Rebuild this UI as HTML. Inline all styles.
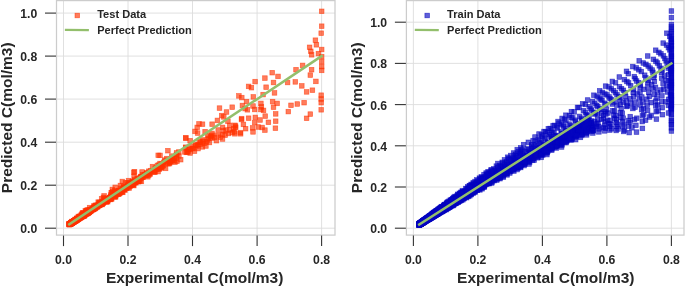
<!DOCTYPE html>
<html><head><meta charset="utf-8"><title>Predicted vs Experimental C</title>
<style>
html,body{margin:0;padding:0;background:#fff;}
svg{display:block;}
text{font-family:"Liberation Sans",sans-serif;font-weight:bold;fill:#262626;}
.tk{font-size:12.2px;}
.al{font-size:15.5px;}
.lg{font-size:11.05px;}
.p rect{width:4.6px;height:4.6px;stroke-width:0.7px;}
</style></head><body>
<svg width="685" height="286" viewBox="0 0 685 286">
<defs><filter id="idf" x="0" y="0" width="685" height="286" filterUnits="userSpaceOnUse" color-interpolation-filters="sRGB"><feOffset dx="0" dy="0"/></filter></defs>
<rect width="685" height="286" fill="#ffffff"/>
<line x1="63.5" y1="0.6" x2="63.5" y2="235.1" stroke="#dcdcdc" stroke-width="0.9"/>
<line x1="128.0" y1="0.6" x2="128.0" y2="235.1" stroke="#dcdcdc" stroke-width="0.9"/>
<line x1="192.5" y1="0.6" x2="192.5" y2="235.1" stroke="#dcdcdc" stroke-width="0.9"/>
<line x1="257.1" y1="0.6" x2="257.1" y2="235.1" stroke="#dcdcdc" stroke-width="0.9"/>
<line x1="321.6" y1="0.6" x2="321.6" y2="235.1" stroke="#dcdcdc" stroke-width="0.9"/>
<line x1="56.5" y1="228.2" x2="335.0" y2="228.2" stroke="#dcdcdc" stroke-width="0.9"/>
<line x1="56.5" y1="185.2" x2="335.0" y2="185.2" stroke="#dcdcdc" stroke-width="0.9"/>
<line x1="56.5" y1="142.2" x2="335.0" y2="142.2" stroke="#dcdcdc" stroke-width="0.9"/>
<line x1="56.5" y1="99.1" x2="335.0" y2="99.1" stroke="#dcdcdc" stroke-width="0.9"/>
<line x1="56.5" y1="56.1" x2="335.0" y2="56.1" stroke="#dcdcdc" stroke-width="0.9"/>
<line x1="56.5" y1="13.1" x2="335.0" y2="13.1" stroke="#dcdcdc" stroke-width="0.9"/>
<g class="p" fill="#ff3200" fill-opacity="0.64" stroke="#ff3200" stroke-opacity="0.64">
<rect x="93.6" y="204.8"/><rect x="93.9" y="204.8"/><rect x="117.5" y="188.9"/><rect x="112.9" y="191.4"/><rect x="147.4" y="171.0"/><rect x="97.5" y="203.0"/><rect x="74.7" y="216.7"/><rect x="92.2" y="205.3"/><rect x="69.4" y="220.2"/><rect x="103.1" y="197.8"/><rect x="75.0" y="216.8"/><rect x="70.8" y="219.7"/><rect x="69.8" y="220.1"/><rect x="95.1" y="203.0"/><rect x="71.6" y="219.1"/><rect x="91.7" y="206.7"/><rect x="141.0" y="175.0"/><rect x="67.7" y="221.7"/><rect x="67.8" y="221.5"/><rect x="171.9" y="158.3"/><rect x="102.6" y="196.2"/><rect x="128.6" y="182.8"/><rect x="85.0" y="210.3"/><rect x="140.2" y="174.9"/><rect x="77.6" y="214.9"/><rect x="112.3" y="191.5"/><rect x="73.2" y="218.0"/><rect x="72.1" y="218.9"/><rect x="77.9" y="215.9"/><rect x="128.0" y="183.3"/><rect x="165.0" y="160.7"/><rect x="72.8" y="218.1"/><rect x="67.9" y="221.5"/><rect x="125.0" y="183.0"/><rect x="67.7" y="221.5"/><rect x="114.2" y="192.5"/><rect x="97.3" y="201.5"/><rect x="82.5" y="213.1"/><rect x="69.1" y="220.9"/><rect x="112.9" y="185.0"/><rect x="68.8" y="220.9"/><rect x="122.7" y="187.9"/><rect x="91.1" y="206.7"/><rect x="69.9" y="220.0"/><rect x="145.5" y="174.5"/><rect x="67.1" y="221.4"/><rect x="86.6" y="209.4"/><rect x="107.8" y="196.8"/><rect x="72.4" y="218.6"/><rect x="141.9" y="173.0"/><rect x="67.5" y="222.1"/><rect x="85.0" y="210.9"/><rect x="127.3" y="181.4"/><rect x="67.1" y="222.0"/><rect x="92.7" y="204.8"/><rect x="67.4" y="222.0"/><rect x="167.1" y="158.5"/><rect x="85.4" y="211.1"/><rect x="98.9" y="200.7"/><rect x="76.3" y="216.0"/><rect x="67.4" y="221.9"/><rect x="152.8" y="169.8"/><rect x="73.7" y="218.1"/><rect x="163.3" y="166.1"/><rect x="85.8" y="210.5"/><rect x="154.5" y="167.1"/><rect x="84.8" y="210.4"/><rect x="85.4" y="209.9"/><rect x="67.0" y="222.2"/><rect x="143.1" y="173.0"/><rect x="84.6" y="208.3"/><rect x="68.8" y="221.3"/><rect x="172.7" y="159.9"/><rect x="67.7" y="221.8"/><rect x="112.9" y="193.0"/><rect x="161.4" y="160.0"/><rect x="89.9" y="206.8"/><rect x="72.2" y="218.6"/><rect x="113.4" y="194.5"/><rect x="75.3" y="217.3"/><rect x="72.6" y="218.4"/><rect x="136.3" y="179.3"/><rect x="74.4" y="216.5"/><rect x="156.6" y="162.8"/><rect x="118.5" y="189.4"/><rect x="87.2" y="208.8"/><rect x="115.3" y="190.4"/><rect x="99.4" y="202.0"/><rect x="122.1" y="186.7"/><rect x="173.9" y="155.9"/><rect x="136.4" y="178.5"/><rect x="80.9" y="213.5"/><rect x="90.9" y="205.7"/><rect x="84.0" y="211.6"/><rect x="77.7" y="214.9"/><rect x="111.8" y="192.0"/><rect x="67.0" y="222.0"/><rect x="107.3" y="195.2"/><rect x="120.1" y="189.6"/><rect x="70.5" y="220.2"/><rect x="94.0" y="204.3"/><rect x="72.0" y="218.6"/><rect x="120.9" y="186.5"/><rect x="103.1" y="199.0"/><rect x="137.7" y="178.8"/><rect x="97.2" y="203.0"/><rect x="70.0" y="220.3"/><rect x="69.6" y="220.6"/><rect x="161.2" y="163.4"/><rect x="146.5" y="173.0"/><rect x="68.6" y="221.2"/><rect x="78.9" y="214.7"/><rect x="79.0" y="212.5"/><rect x="91.9" y="206.1"/><rect x="167.4" y="158.0"/><rect x="85.5" y="209.8"/><rect x="91.0" y="207.2"/><rect x="67.8" y="221.7"/><rect x="132.4" y="177.4"/><rect x="70.0" y="220.1"/><rect x="83.4" y="211.0"/><rect x="93.1" y="206.2"/><rect x="101.3" y="199.8"/><rect x="105.8" y="197.7"/><rect x="114.7" y="191.1"/><rect x="81.6" y="213.3"/><rect x="68.9" y="221.2"/><rect x="82.5" y="212.1"/><rect x="133.5" y="180.5"/><rect x="67.8" y="221.8"/><rect x="71.3" y="218.7"/><rect x="80.2" y="213.2"/><rect x="71.0" y="219.7"/><rect x="70.9" y="219.4"/><rect x="81.0" y="212.8"/><rect x="107.4" y="195.3"/><rect x="83.0" y="208.4"/><rect x="126.4" y="183.5"/><rect x="79.8" y="213.8"/><rect x="67.8" y="221.6"/><rect x="75.1" y="216.8"/><rect x="68.3" y="221.2"/><rect x="71.4" y="219.4"/><rect x="67.5" y="221.8"/><rect x="87.1" y="209.4"/><rect x="159.8" y="164.3"/><rect x="73.4" y="217.9"/><rect x="74.4" y="215.9"/><rect x="86.7" y="209.5"/><rect x="118.5" y="189.1"/><rect x="75.2" y="216.6"/><rect x="101.1" y="200.9"/><rect x="70.1" y="220.1"/><rect x="82.5" y="212.1"/><rect x="159.3" y="164.8"/><rect x="123.2" y="180.6"/><rect x="126.5" y="182.7"/><rect x="86.4" y="209.1"/><rect x="108.9" y="195.5"/><rect x="81.8" y="212.8"/><rect x="76.2" y="216.2"/><rect x="93.3" y="205.7"/><rect x="95.1" y="204.5"/><rect x="75.7" y="216.2"/><rect x="167.2" y="161.3"/><rect x="70.2" y="220.0"/><rect x="115.1" y="189.5"/><rect x="70.5" y="219.6"/><rect x="101.2" y="199.4"/><rect x="68.9" y="221.0"/><rect x="73.3" y="218.0"/><rect x="121.9" y="187.0"/><rect x="69.5" y="220.5"/><rect x="124.4" y="185.3"/><rect x="75.9" y="216.3"/><rect x="82.9" y="211.7"/><rect x="78.9" y="214.7"/><rect x="138.2" y="175.3"/><rect x="72.8" y="217.1"/><rect x="70.6" y="219.5"/><rect x="74.9" y="216.7"/><rect x="71.7" y="219.2"/><rect x="77.5" y="215.0"/><rect x="108.9" y="190.6"/><rect x="160.2" y="162.3"/><rect x="101.8" y="193.6"/><rect x="67.2" y="221.9"/><rect x="67.1" y="222.0"/><rect x="87.9" y="208.5"/><rect x="71.2" y="219.2"/><rect x="72.0" y="218.7"/><rect x="131.1" y="182.7"/><rect x="70.9" y="219.8"/><rect x="174.1" y="152.1"/><rect x="96.8" y="202.0"/><rect x="70.2" y="220.1"/><rect x="148.4" y="168.3"/><rect x="68.1" y="221.4"/><rect x="104.6" y="196.3"/><rect x="70.7" y="219.8"/><rect x="68.3" y="221.4"/><rect x="125.9" y="182.8"/><rect x="108.9" y="194.9"/><rect x="108.3" y="195.2"/><rect x="100.3" y="201.2"/><rect x="130.0" y="179.0"/><rect x="121.9" y="185.9"/><rect x="89.8" y="207.3"/><rect x="71.7" y="219.4"/><rect x="139.7" y="174.5"/><rect x="71.4" y="219.4"/><rect x="90.0" y="207.5"/><rect x="74.9" y="216.9"/><rect x="85.8" y="211.1"/><rect x="97.1" y="202.5"/><rect x="131.1" y="180.0"/><rect x="86.7" y="209.8"/><rect x="104.6" y="196.8"/><rect x="77.0" y="215.8"/><rect x="101.0" y="200.2"/><rect x="147.1" y="170.0"/><rect x="117.0" y="188.3"/><rect x="129.9" y="182.1"/><rect x="67.6" y="221.8"/><rect x="69.9" y="220.0"/><rect x="68.2" y="221.2"/><rect x="68.6" y="221.0"/><rect x="73.3" y="218.3"/><rect x="109.3" y="196.8"/><rect x="73.7" y="217.6"/><rect x="73.4" y="218.0"/><rect x="67.5" y="221.7"/><rect x="81.7" y="212.0"/><rect x="73.4" y="218.5"/><rect x="69.3" y="220.7"/><rect x="89.4" y="206.9"/><rect x="137.9" y="175.7"/><rect x="101.8" y="198.6"/><rect x="103.9" y="198.9"/><rect x="91.4" y="207.0"/><rect x="70.0" y="220.2"/><rect x="67.0" y="222.2"/><rect x="121.9" y="187.2"/><rect x="85.0" y="211.3"/><rect x="138.6" y="174.2"/><rect x="104.4" y="198.7"/><rect x="68.1" y="221.5"/><rect x="67.1" y="221.9"/><rect x="99.7" y="200.6"/><rect x="157.7" y="153.1"/><rect x="74.2" y="217.3"/><rect x="81.8" y="212.2"/><rect x="80.5" y="213.2"/><rect x="106.4" y="196.9"/><rect x="94.4" y="204.0"/><rect x="98.5" y="201.0"/><rect x="88.7" y="207.4"/><rect x="90.7" y="206.2"/><rect x="93.1" y="203.0"/><rect x="75.0" y="216.3"/><rect x="90.5" y="206.9"/><rect x="82.3" y="211.7"/><rect x="168.7" y="159.3"/><rect x="68.1" y="221.3"/><rect x="82.2" y="213.3"/><rect x="78.6" y="214.3"/><rect x="72.2" y="218.6"/><rect x="105.4" y="199.4"/><rect x="88.2" y="207.3"/><rect x="96.4" y="202.9"/><rect x="68.9" y="220.2"/><rect x="169.5" y="153.8"/><rect x="102.0" y="197.4"/><rect x="107.2" y="196.5"/><rect x="70.0" y="220.5"/><rect x="85.7" y="207.4"/><rect x="81.0" y="213.7"/><rect x="96.7" y="201.9"/><rect x="70.3" y="219.9"/><rect x="72.2" y="218.7"/><rect x="95.5" y="203.8"/><rect x="86.6" y="209.6"/><rect x="72.8" y="218.0"/><rect x="176.6" y="153.8"/><rect x="72.4" y="218.7"/><rect x="90.3" y="207.3"/><rect x="108.1" y="195.4"/><rect x="68.2" y="221.3"/><rect x="89.4" y="207.1"/><rect x="68.5" y="220.9"/><rect x="84.1" y="211.1"/><rect x="74.6" y="217.5"/><rect x="71.1" y="219.5"/><rect x="167.6" y="159.9"/><rect x="119.6" y="189.5"/><rect x="74.5" y="217.4"/><rect x="146.5" y="168.9"/><rect x="80.9" y="212.6"/><rect x="76.9" y="215.5"/><rect x="147.0" y="171.3"/><rect x="69.7" y="220.8"/><rect x="68.0" y="221.4"/><rect x="97.3" y="200.0"/><rect x="124.5" y="186.0"/><rect x="79.8" y="214.0"/><rect x="68.4" y="221.2"/><rect x="121.7" y="185.1"/><rect x="70.7" y="219.8"/><rect x="104.8" y="197.5"/><rect x="70.8" y="219.9"/><rect x="90.7" y="206.5"/><rect x="170.2" y="158.2"/><rect x="68.2" y="221.6"/><rect x="79.3" y="214.4"/><rect x="74.3" y="217.2"/><rect x="109.6" y="190.4"/><rect x="153.8" y="165.5"/><rect x="75.9" y="215.7"/><rect x="77.2" y="214.4"/><rect x="150.2" y="164.3"/><rect x="86.9" y="209.0"/><rect x="88.2" y="209.2"/><rect x="76.5" y="216.0"/><rect x="74.4" y="217.3"/><rect x="68.9" y="221.0"/><rect x="80.2" y="210.7"/><rect x="72.9" y="218.3"/><rect x="86.7" y="210.0"/><rect x="71.6" y="219.1"/><rect x="131.5" y="183.3"/><rect x="97.2" y="202.2"/><rect x="75.5" y="216.6"/><rect x="84.3" y="211.6"/><rect x="68.3" y="221.3"/><rect x="158.6" y="165.5"/><rect x="74.2" y="217.4"/><rect x="139.8" y="169.7"/><rect x="99.9" y="202.2"/><rect x="94.2" y="204.0"/><rect x="70.1" y="220.0"/><rect x="183.3" y="145.5"/><rect x="106.8" y="195.9"/><rect x="131.8" y="179.5"/><rect x="80.2" y="214.3"/><rect x="120.5" y="190.1"/><rect x="116.4" y="191.9"/><rect x="85.4" y="210.2"/><rect x="152.9" y="166.1"/><rect x="98.0" y="201.4"/><rect x="68.6" y="220.7"/><rect x="74.3" y="217.7"/><rect x="84.2" y="208.0"/><rect x="115.2" y="191.4"/><rect x="97.8" y="202.0"/><rect x="130.7" y="181.4"/><rect x="102.0" y="199.4"/><rect x="159.2" y="161.7"/><rect x="102.4" y="199.3"/><rect x="128.6" y="182.4"/><rect x="71.0" y="219.3"/><rect x="167.4" y="160.3"/><rect x="70.0" y="220.3"/><rect x="100.0" y="199.7"/><rect x="79.7" y="214.0"/><rect x="66.9" y="221.6"/><rect x="87.6" y="209.0"/><rect x="132.2" y="169.4"/><rect x="76.0" y="214.2"/><rect x="135.0" y="179.1"/><rect x="75.6" y="216.7"/><rect x="83.3" y="211.5"/><rect x="112.8" y="194.6"/><rect x="91.0" y="206.5"/><rect x="109.7" y="193.2"/><rect x="86.8" y="208.7"/><rect x="104.4" y="199.6"/><rect x="130.3" y="182.3"/><rect x="116.1" y="190.7"/><rect x="85.0" y="210.0"/><rect x="94.9" y="203.0"/><rect x="104.3" y="196.3"/><rect x="68.3" y="221.3"/><rect x="74.3" y="217.6"/><rect x="92.2" y="206.1"/><rect x="100.0" y="200.7"/><rect x="120.9" y="186.5"/><rect x="69.6" y="220.3"/><rect x="86.0" y="210.0"/><rect x="80.9" y="210.4"/><rect x="84.1" y="210.9"/><rect x="74.5" y="216.9"/><rect x="70.8" y="219.4"/><rect x="134.8" y="175.9"/><rect x="165.9" y="161.5"/><rect x="73.0" y="218.1"/><rect x="71.6" y="219.3"/><rect x="112.4" y="188.4"/><rect x="110.5" y="189.5"/><rect x="117.8" y="189.2"/><rect x="157.1" y="166.9"/><rect x="77.5" y="215.7"/><rect x="81.6" y="212.1"/><rect x="162.4" y="157.8"/><rect x="81.0" y="212.7"/><rect x="82.9" y="211.8"/><rect x="79.9" y="214.4"/><rect x="69.1" y="220.6"/><rect x="174.3" y="150.6"/><rect x="78.4" y="215.5"/><rect x="69.1" y="220.7"/><rect x="68.0" y="221.5"/><rect x="71.3" y="219.4"/><rect x="150.7" y="168.5"/><rect x="81.4" y="212.8"/><rect x="71.3" y="219.1"/><rect x="67.1" y="221.8"/><rect x="68.3" y="221.1"/><rect x="91.5" y="204.9"/><rect x="155.9" y="153.0"/><rect x="116.9" y="191.4"/><rect x="99.3" y="196.4"/><rect x="81.2" y="213.2"/><rect x="74.1" y="217.0"/><rect x="96.4" y="203.4"/><rect x="83.5" y="209.5"/><rect x="95.0" y="203.2"/><rect x="138.9" y="175.7"/><rect x="133.4" y="180.2"/><rect x="88.0" y="208.3"/><rect x="95.9" y="199.8"/><rect x="144.4" y="171.2"/><rect x="74.8" y="216.9"/><rect x="110.0" y="187.1"/><rect x="69.4" y="220.7"/><rect x="72.0" y="218.8"/><rect x="73.8" y="217.5"/><rect x="82.1" y="212.5"/><rect x="115.3" y="190.9"/><rect x="118.1" y="183.2"/><rect x="104.7" y="196.7"/><rect x="68.0" y="221.5"/><rect x="67.3" y="222.0"/><rect x="72.0" y="219.5"/><rect x="117.7" y="190.9"/><rect x="81.0" y="213.1"/><rect x="84.4" y="210.5"/><rect x="88.7" y="208.5"/><rect x="121.9" y="186.5"/><rect x="129.0" y="182.8"/><rect x="112.1" y="193.0"/><rect x="68.3" y="221.1"/><rect x="165.6" y="148.4"/><rect x="157.7" y="161.2"/><rect x="68.3" y="221.3"/><rect x="69.3" y="220.8"/><rect x="139.1" y="179.1"/><rect x="81.3" y="212.4"/><rect x="152.3" y="168.8"/><rect x="176.5" y="149.7"/><rect x="110.6" y="192.8"/><rect x="86.0" y="210.3"/><rect x="157.8" y="165.7"/><rect x="73.4" y="218.5"/><rect x="68.1" y="221.2"/><rect x="155.8" y="169.3"/><rect x="73.7" y="218.1"/><rect x="86.9" y="210.2"/><rect x="73.3" y="218.1"/><rect x="69.2" y="220.6"/><rect x="80.9" y="213.0"/><rect x="69.8" y="220.5"/><rect x="86.3" y="209.6"/><rect x="164.4" y="156.3"/><rect x="97.9" y="202.5"/><rect x="67.9" y="221.5"/><rect x="87.8" y="207.9"/><rect x="75.4" y="216.5"/><rect x="74.0" y="217.5"/><rect x="83.9" y="211.0"/><rect x="80.4" y="213.7"/><rect x="75.4" y="216.6"/><rect x="74.0" y="217.7"/><rect x="78.9" y="214.4"/><rect x="131.8" y="174.1"/><rect x="72.8" y="218.1"/><rect x="125.0" y="184.4"/><rect x="132.2" y="178.7"/><rect x="77.3" y="215.3"/><rect x="99.4" y="201.2"/><rect x="127.8" y="183.8"/><rect x="75.9" y="216.4"/><rect x="88.2" y="208.3"/><rect x="95.3" y="204.4"/><rect x="72.0" y="219.0"/><rect x="91.7" y="203.5"/><rect x="72.8" y="218.5"/><rect x="74.4" y="217.5"/><rect x="70.1" y="220.4"/><rect x="81.3" y="212.3"/><rect x="97.5" y="201.6"/><rect x="128.3" y="180.6"/><rect x="112.6" y="191.1"/><rect x="71.1" y="219.4"/><rect x="140.4" y="172.6"/><rect x="70.3" y="219.8"/><rect x="94.6" y="204.3"/><rect x="111.2" y="193.4"/><rect x="101.1" y="195.1"/><rect x="108.3" y="194.5"/><rect x="103.8" y="199.5"/><rect x="137.2" y="177.5"/><rect x="169.3" y="156.1"/><rect x="87.4" y="208.4"/><rect x="100.5" y="200.1"/><rect x="72.2" y="219.0"/><rect x="78.8" y="214.3"/><rect x="118.1" y="186.0"/><rect x="98.3" y="202.0"/><rect x="123.6" y="185.5"/><rect x="76.7" y="216.0"/><rect x="131.6" y="170.0"/><rect x="126.8" y="183.2"/><rect x="104.0" y="198.0"/><rect x="92.3" y="205.3"/><rect x="170.1" y="156.4"/><rect x="79.6" y="213.8"/><rect x="70.6" y="219.6"/><rect x="76.3" y="216.5"/><rect x="71.5" y="219.0"/><rect x="70.0" y="220.3"/><rect x="79.5" y="213.9"/><rect x="126.5" y="182.0"/><rect x="76.3" y="216.8"/><rect x="92.6" y="204.7"/><rect x="118.3" y="189.3"/><rect x="116.6" y="190.7"/><rect x="85.2" y="210.4"/><rect x="73.4" y="218.1"/><rect x="79.6" y="213.6"/><rect x="126.2" y="178.3"/><rect x="67.7" y="221.8"/><rect x="104.1" y="198.9"/><rect x="92.7" y="204.6"/><rect x="72.0" y="218.6"/><rect x="70.8" y="219.5"/><rect x="69.6" y="220.5"/><rect x="99.1" y="200.8"/><rect x="81.9" y="213.2"/><rect x="174.6" y="153.5"/><rect x="162.8" y="158.8"/><rect x="82.7" y="211.4"/><rect x="119.8" y="187.3"/><rect x="84.1" y="210.7"/><rect x="73.7" y="217.9"/><rect x="139.4" y="174.5"/><rect x="99.2" y="199.9"/><rect x="131.1" y="181.4"/><rect x="67.3" y="221.8"/><rect x="156.3" y="165.9"/><rect x="68.7" y="221.2"/><rect x="84.8" y="210.6"/><rect x="111.6" y="193.3"/><rect x="115.7" y="191.7"/><rect x="127.0" y="185.8"/><rect x="143.8" y="173.4"/><rect x="133.1" y="179.8"/><rect x="115.0" y="189.5"/><rect x="94.0" y="203.8"/><rect x="73.4" y="218.4"/><rect x="68.9" y="221.1"/><rect x="90.9" y="206.7"/><rect x="76.4" y="216.3"/><rect x="75.4" y="216.3"/><rect x="108.4" y="192.7"/><rect x="86.3" y="208.8"/><rect x="74.0" y="217.5"/><rect x="142.6" y="172.3"/><rect x="86.0" y="209.4"/><rect x="121.4" y="184.6"/><rect x="102.8" y="198.5"/><rect x="113.2" y="192.4"/><rect x="81.6" y="213.6"/><rect x="88.5" y="208.4"/><rect x="75.7" y="216.4"/><rect x="129.9" y="179.4"/><rect x="151.8" y="169.8"/><rect x="144.0" y="171.4"/><rect x="77.1" y="214.6"/><rect x="108.6" y="194.2"/><rect x="75.0" y="217.1"/><rect x="85.2" y="209.7"/><rect x="68.0" y="221.5"/><rect x="77.2" y="215.1"/><rect x="116.2" y="188.6"/><rect x="82.1" y="212.1"/><rect x="67.3" y="221.7"/><rect x="138.2" y="174.8"/><rect x="83.4" y="212.1"/><rect x="116.0" y="190.1"/><rect x="74.0" y="217.9"/><rect x="183.4" y="144.9"/><rect x="74.8" y="217.7"/><rect x="125.4" y="180.6"/><rect x="135.8" y="176.4"/><rect x="88.4" y="207.7"/><rect x="120.0" y="179.2"/><rect x="71.8" y="219.2"/><rect x="70.9" y="219.5"/><rect x="124.0" y="185.4"/><rect x="112.0" y="194.4"/><rect x="78.7" y="214.5"/><rect x="178.4" y="157.4"/><rect x="104.5" y="198.9"/><rect x="155.1" y="163.1"/><rect x="67.2" y="222.0"/><rect x="81.2" y="212.3"/><rect x="73.6" y="217.9"/><rect x="90.5" y="207.2"/><rect x="112.8" y="190.4"/><rect x="84.2" y="211.2"/><rect x="78.4" y="214.4"/><rect x="98.2" y="201.9"/><rect x="88.6" y="207.5"/><rect x="104.5" y="198.2"/><rect x="111.5" y="192.4"/><rect x="73.8" y="217.7"/><rect x="109.3" y="196.2"/><rect x="116.9" y="188.2"/><rect x="171.7" y="156.3"/><rect x="71.1" y="219.5"/><rect x="93.7" y="203.1"/><rect x="135.8" y="179.3"/><rect x="68.8" y="221.0"/><rect x="123.5" y="184.6"/><rect x="96.2" y="203.3"/><rect x="69.6" y="219.2"/><rect x="91.4" y="206.3"/><rect x="97.6" y="201.5"/><rect x="80.9" y="213.1"/><rect x="121.6" y="185.1"/><rect x="72.6" y="218.5"/><rect x="70.0" y="220.2"/><rect x="152.1" y="168.5"/><rect x="78.9" y="213.9"/><rect x="85.0" y="210.7"/><rect x="99.3" y="202.1"/><rect x="68.0" y="221.7"/><rect x="81.9" y="213.4"/><rect x="174.7" y="159.0"/><rect x="77.7" y="213.8"/><rect x="67.4" y="222.1"/><rect x="98.2" y="201.2"/><rect x="81.5" y="212.2"/><rect x="69.2" y="220.8"/><rect x="144.4" y="170.3"/><rect x="142.0" y="173.3"/><rect x="117.2" y="190.0"/><rect x="126.1" y="184.9"/><rect x="78.9" y="214.6"/><rect x="71.1" y="219.3"/><rect x="129.9" y="181.6"/><rect x="73.0" y="217.9"/><rect x="88.6" y="208.1"/><rect x="80.7" y="212.9"/><rect x="103.8" y="198.3"/><rect x="76.1" y="216.2"/><rect x="167.6" y="158.2"/><rect x="70.2" y="220.5"/><rect x="67.9" y="221.4"/><rect x="79.7" y="213.3"/><rect x="74.8" y="216.9"/><rect x="72.3" y="218.3"/><rect x="73.9" y="217.4"/><rect x="96.8" y="200.5"/><rect x="87.5" y="207.4"/><rect x="78.1" y="214.9"/><rect x="108.2" y="197.2"/><rect x="131.5" y="181.1"/><rect x="70.2" y="220.1"/><rect x="73.1" y="218.2"/><rect x="81.8" y="212.7"/><rect x="69.0" y="220.7"/><rect x="78.4" y="214.2"/><rect x="147.9" y="171.8"/><rect x="71.4" y="219.1"/><rect x="67.0" y="222.2"/><rect x="68.9" y="220.6"/><rect x="79.4" y="214.3"/><rect x="79.9" y="211.3"/><rect x="68.7" y="221.1"/><rect x="77.1" y="215.1"/><rect x="87.3" y="205.3"/><rect x="69.0" y="220.6"/><rect x="182.5" y="149.6"/><rect x="67.2" y="222.2"/><rect x="76.7" y="215.4"/><rect x="68.1" y="221.5"/><rect x="68.7" y="221.1"/><rect x="89.1" y="207.6"/><rect x="68.5" y="220.9"/><rect x="91.5" y="205.5"/><rect x="73.3" y="218.1"/><rect x="106.2" y="197.2"/><rect x="67.7" y="221.5"/><rect x="319.4" y="9.0"/><rect x="319.4" y="23.9"/><rect x="318.9" y="30.9"/><rect x="313.1" y="37.9"/><rect x="314.1" y="42.5"/><rect x="307.3" y="45.0"/><rect x="308.5" y="49.0"/><rect x="309.3" y="52.5"/><rect x="319.4" y="47.2"/><rect x="316.1" y="51.3"/><rect x="319.4" y="54.3"/><rect x="319.4" y="59.3"/><rect x="319.4" y="64.3"/><rect x="319.4" y="68.1"/><rect x="300.3" y="63.1"/><rect x="293.7" y="67.4"/><rect x="309.3" y="67.4"/><rect x="308.0" y="72.8"/><rect x="313.6" y="79.1"/><rect x="269.9" y="70.4"/><rect x="275.7" y="74.1"/><rect x="262.6" y="75.8"/><rect x="252.8" y="79.3"/><rect x="271.2" y="80.2"/><rect x="285.3" y="80.2"/><rect x="263.8" y="84.9"/><rect x="293.0" y="79.6"/><rect x="299.5" y="83.6"/><rect x="310.1" y="87.9"/><rect x="304.3" y="89.6"/><rect x="272.2" y="90.6"/><rect x="246.3" y="84.1"/><rect x="249.1" y="85.4"/><rect x="318.9" y="92.9"/><rect x="318.9" y="96.7"/><rect x="318.9" y="100.4"/><rect x="318.9" y="107.5"/><rect x="260.8" y="92.3"/><rect x="251.0" y="94.6"/><rect x="270.3" y="99.3"/><rect x="274.8" y="101.1"/><rect x="271.2" y="104.9"/><rect x="288.7" y="103.0"/><rect x="295.0" y="101.7"/><rect x="301.8" y="100.4"/><rect x="286.0" y="109.3"/><rect x="308.0" y="111.8"/><rect x="304.3" y="116.0"/><rect x="258.6" y="101.1"/><rect x="259.1" y="104.6"/><rect x="258.6" y="107.2"/><rect x="261.2" y="108.1"/><rect x="250.7" y="103.7"/><rect x="252.4" y="107.2"/><rect x="244.2" y="99.3"/><rect x="273.4" y="111.6"/><rect x="262.9" y="113.8"/><rect x="253.0" y="115.1"/><rect x="246.3" y="115.9"/><rect x="257.7" y="117.7"/><rect x="252.4" y="120.3"/><rect x="266.1" y="120.0"/><rect x="273.4" y="118.9"/><rect x="243.3" y="126.4"/><rect x="250.3" y="125.6"/><rect x="250.7" y="129.6"/><rect x="255.9" y="124.7"/><rect x="259.8" y="125.2"/><rect x="262.6" y="127.8"/><rect x="273.1" y="125.9"/><rect x="236.6" y="93.6"/><rect x="239.5" y="95.3"/><rect x="240.1" y="103.2"/><rect x="229.9" y="104.9"/><rect x="217.2" y="105.8"/><rect x="224.2" y="109.7"/><rect x="219.4" y="113.3"/><rect x="221.5" y="114.6"/><rect x="215.1" y="118.1"/><rect x="209.8" y="121.9"/><rect x="196.7" y="121.6"/><rect x="200.2" y="121.9"/><rect x="194.9" y="125.1"/><rect x="192.7" y="129.1"/><rect x="195.3" y="130.8"/><rect x="202.8" y="129.4"/><rect x="183.6" y="135.6"/><rect x="239.2" y="117.2"/><rect x="225.6" y="118.9"/><rect x="227.3" y="123.0"/><rect x="232.6" y="123.0"/><rect x="233.4" y="125.1"/><rect x="220.3" y="125.1"/><rect x="215.9" y="127.7"/><rect x="221.2" y="128.6"/><rect x="223.8" y="127.7"/><rect x="227.3" y="127.7"/><rect x="229.9" y="130.3"/><rect x="232.6" y="131.5"/><rect x="220.3" y="132.1"/><rect x="222.9" y="132.9"/><rect x="238.3" y="131.5"/><rect x="215.9" y="132.9"/><rect x="210.7" y="132.9"/><rect x="205.4" y="132.9"/><rect x="208.1" y="134.7"/><rect x="220.2" y="136.7"/><rect x="209.7" y="131.1"/><rect x="214.1" y="138.4"/><rect x="209.7" y="135.8"/><rect x="205.3" y="137.6"/><rect x="207.1" y="140.2"/><rect x="200.1" y="137.6"/><rect x="201.8" y="141.1"/><rect x="198.3" y="141.9"/><rect x="203.6" y="143.7"/><rect x="200.1" y="144.6"/><rect x="194.8" y="143.7"/><rect x="195.7" y="146.3"/><rect x="190.4" y="146.3"/><rect x="192.2" y="148.9"/><rect x="185.2" y="149.8"/><rect x="187.8" y="150.7"/><rect x="183.4" y="135.8"/><rect x="187.8" y="138.4"/><rect x="245.1" y="107.5"/><rect x="233.2" y="123.8"/><rect x="231.4" y="126.4"/><rect x="232.3" y="129.6"/><rect x="238.1" y="130.3"/><rect x="241.1" y="122.1"/><rect x="239.3" y="116.3"/><rect x="242.8" y="106.3"/><rect x="226.2" y="131.2"/><rect x="218.0" y="134.9"/><rect x="212.2" y="135.1"/><rect x="204.0" y="139.5"/><rect x="196.9" y="139.8"/><rect x="193.6" y="142.6"/><rect x="188.9" y="144.3"/><rect x="186.5" y="147.4"/><rect x="184.0" y="150.1"/><rect x="185.7" y="149.3"/><rect x="188.2" y="146.7"/><rect x="190.7" y="146.0"/><rect x="193.2" y="143.3"/><rect x="195.7" y="142.4"/><rect x="198.2" y="139.7"/><rect x="200.9" y="138.9"/><rect x="206.1" y="136.0"/><rect x="208.8" y="133.9"/>
</g>
<line x1="69.3" y1="224.3" x2="321.6" y2="56.1" stroke="#93bf6c" stroke-width="2.5" stroke-linecap="square"/>
<rect x="56.5" y="0.6" width="278.5" height="234.5" fill="none" stroke="#cccccc" stroke-width="1.25"/>
<line x1="63.5" y1="235.6" x2="63.5" y2="246.1" stroke="#333" stroke-width="1.1"/>
<line x1="128.0" y1="235.6" x2="128.0" y2="246.1" stroke="#333" stroke-width="1.1"/>
<line x1="192.5" y1="235.6" x2="192.5" y2="246.1" stroke="#333" stroke-width="1.1"/>
<line x1="257.1" y1="235.6" x2="257.1" y2="246.1" stroke="#333" stroke-width="1.1"/>
<line x1="321.6" y1="235.6" x2="321.6" y2="246.1" stroke="#333" stroke-width="1.1"/>
<line x1="45.0" y1="228.2" x2="56.0" y2="228.2" stroke="#333" stroke-width="1.1"/>
<line x1="45.0" y1="185.2" x2="56.0" y2="185.2" stroke="#333" stroke-width="1.1"/>
<line x1="45.0" y1="142.2" x2="56.0" y2="142.2" stroke="#333" stroke-width="1.1"/>
<line x1="45.0" y1="99.1" x2="56.0" y2="99.1" stroke="#333" stroke-width="1.1"/>
<line x1="45.0" y1="56.1" x2="56.0" y2="56.1" stroke="#333" stroke-width="1.1"/>
<line x1="45.0" y1="13.1" x2="56.0" y2="13.1" stroke="#333" stroke-width="1.1"/>
<rect x="75.0" y="13.2" width="4.6" height="4.6" fill="#ff3200" fill-opacity="0.64" stroke="#ff3200" stroke-opacity="0.64" stroke-width="0.7"/>
<line x1="64.9" y1="29.9" x2="88.9" y2="30.1" stroke="#93bf6c" stroke-width="2.1"/>
<g filter="url(#idf)">
<text x="63.5" y="264.0" text-anchor="middle" class="tk">0.0</text>
<text x="128.0" y="264.0" text-anchor="middle" class="tk">0.2</text>
<text x="192.5" y="264.0" text-anchor="middle" class="tk">0.4</text>
<text x="257.1" y="264.0" text-anchor="middle" class="tk">0.6</text>
<text x="321.6" y="264.0" text-anchor="middle" class="tk">0.8</text>
<text x="37.2" y="233.1" text-anchor="end" class="tk">0.0</text>
<text x="37.2" y="190.1" text-anchor="end" class="tk">0.2</text>
<text x="37.2" y="147.1" text-anchor="end" class="tk">0.4</text>
<text x="37.2" y="104.1" text-anchor="end" class="tk">0.6</text>
<text x="37.2" y="61.1" text-anchor="end" class="tk">0.8</text>
<text x="37.2" y="18.0" text-anchor="end" class="tk">1.0</text>
<text x="194.6" y="282.7" text-anchor="middle" class="al">Experimental C(mol/m3)</text>
<text transform="translate(12.3,117.8) rotate(-90)" text-anchor="middle" class="al">Predicted C(mol/m3)</text>
<text x="97.2" y="17.9" class="lg">Test Data</text>
<text x="97.2" y="33.9" class="lg">Perfect Prediction</text>
</g>
<line x1="413.4" y1="0.6" x2="413.4" y2="235.1" stroke="#dcdcdc" stroke-width="0.9"/>
<line x1="477.9" y1="0.6" x2="477.9" y2="235.1" stroke="#dcdcdc" stroke-width="0.9"/>
<line x1="542.4" y1="0.6" x2="542.4" y2="235.1" stroke="#dcdcdc" stroke-width="0.9"/>
<line x1="606.9" y1="0.6" x2="606.9" y2="235.1" stroke="#dcdcdc" stroke-width="0.9"/>
<line x1="671.4" y1="0.6" x2="671.4" y2="235.1" stroke="#dcdcdc" stroke-width="0.9"/>
<line x1="406.4" y1="228.2" x2="684.0" y2="228.2" stroke="#dcdcdc" stroke-width="0.9"/>
<line x1="406.4" y1="187.0" x2="684.0" y2="187.0" stroke="#dcdcdc" stroke-width="0.9"/>
<line x1="406.4" y1="145.8" x2="684.0" y2="145.8" stroke="#dcdcdc" stroke-width="0.9"/>
<line x1="406.4" y1="104.6" x2="684.0" y2="104.6" stroke="#dcdcdc" stroke-width="0.9"/>
<line x1="406.4" y1="63.4" x2="684.0" y2="63.4" stroke="#dcdcdc" stroke-width="0.9"/>
<line x1="406.4" y1="22.2" x2="684.0" y2="22.2" stroke="#dcdcdc" stroke-width="0.9"/>
<g class="p" fill="#0404c0" fill-opacity="0.64" stroke="#0404c0" stroke-opacity="0.64">
<rect x="447.9" y="202.3"/><rect x="420.3" y="219.6"/><rect x="565.6" y="130.7"/><rect x="432.1" y="213.1"/><rect x="422.9" y="218.7"/><rect x="467.5" y="193.5"/><rect x="667.4" y="34.1"/><rect x="572.1" y="129.3"/><rect x="494.8" y="175.9"/><rect x="513.3" y="160.7"/><rect x="440.4" y="207.6"/><rect x="522.3" y="161.3"/><rect x="527.5" y="152.6"/><rect x="542.1" y="135.5"/><rect x="618.5" y="115.2"/><rect x="595.4" y="117.5"/><rect x="418.7" y="221.2"/><rect x="571.1" y="125.2"/><rect x="499.0" y="164.6"/><rect x="432.2" y="213.0"/><rect x="450.6" y="203.3"/><rect x="669.1" y="104.0"/><rect x="420.8" y="219.5"/><rect x="419.4" y="219.9"/><rect x="447.6" y="201.9"/><rect x="462.8" y="191.1"/><rect x="535.7" y="143.4"/><rect x="621.8" y="121.8"/><rect x="470.6" y="189.7"/><rect x="548.2" y="143.8"/><rect x="459.7" y="193.2"/><rect x="447.3" y="203.2"/><rect x="417.9" y="220.8"/><rect x="485.0" y="181.5"/><rect x="447.9" y="202.8"/><rect x="457.2" y="198.1"/><rect x="669.1" y="43.4"/><rect x="447.7" y="204.4"/><rect x="438.6" y="205.7"/><rect x="514.2" y="163.3"/><rect x="632.0" y="74.3"/><rect x="612.2" y="116.0"/><rect x="500.7" y="173.0"/><rect x="522.2" y="157.0"/><rect x="502.5" y="169.9"/><rect x="420.5" y="220.2"/><rect x="584.2" y="127.5"/><rect x="434.2" y="211.7"/><rect x="429.6" y="215.1"/><rect x="526.7" y="158.5"/><rect x="429.5" y="214.1"/><rect x="531.0" y="155.8"/><rect x="418.8" y="221.2"/><rect x="569.0" y="124.9"/><rect x="534.5" y="142.1"/><rect x="481.1" y="180.0"/><rect x="430.1" y="212.8"/><rect x="517.7" y="150.1"/><rect x="525.9" y="158.0"/><rect x="417.0" y="221.9"/><rect x="430.8" y="213.9"/><rect x="534.8" y="149.3"/><rect x="655.2" y="90.3"/><rect x="417.0" y="222.0"/><rect x="653.4" y="103.6"/><rect x="458.9" y="196.4"/><rect x="419.3" y="220.8"/><rect x="523.1" y="155.7"/><rect x="486.0" y="176.0"/><rect x="460.0" y="193.8"/><rect x="530.2" y="155.1"/><rect x="428.2" y="214.8"/><rect x="602.4" y="122.7"/><rect x="417.6" y="222.0"/><rect x="463.2" y="191.7"/><rect x="422.5" y="219.0"/><rect x="506.7" y="165.5"/><rect x="664.8" y="61.1"/><rect x="461.6" y="193.2"/><rect x="551.2" y="136.7"/><rect x="445.2" y="204.8"/><rect x="520.5" y="155.5"/><rect x="453.0" y="194.8"/><rect x="660.9" y="40.8"/><rect x="430.2" y="214.5"/><rect x="432.2" y="212.6"/><rect x="416.9" y="222.4"/><rect x="479.8" y="186.5"/><rect x="468.7" y="188.7"/><rect x="425.9" y="216.4"/><rect x="588.4" y="122.9"/><rect x="562.6" y="140.2"/><rect x="418.3" y="221.4"/><rect x="653.9" y="109.4"/><rect x="474.8" y="185.9"/><rect x="620.0" y="110.8"/><rect x="416.8" y="222.3"/><rect x="488.8" y="177.1"/><rect x="427.9" y="214.7"/><rect x="664.2" y="42.8"/><rect x="429.6" y="214.0"/><rect x="520.3" y="157.6"/><rect x="455.0" y="195.6"/><rect x="533.1" y="151.0"/><rect x="583.1" y="110.0"/><rect x="416.9" y="222.4"/><rect x="424.1" y="218.1"/><rect x="470.4" y="189.0"/><rect x="422.1" y="219.0"/><rect x="521.7" y="160.3"/><rect x="419.9" y="219.3"/><rect x="442.5" y="202.6"/><rect x="427.4" y="216.1"/><rect x="514.0" y="163.6"/><rect x="454.2" y="198.5"/><rect x="557.2" y="138.3"/><rect x="442.2" y="208.0"/><rect x="472.6" y="184.2"/><rect x="455.6" y="199.2"/><rect x="418.8" y="221.1"/><rect x="420.4" y="220.2"/><rect x="535.0" y="152.8"/><rect x="584.8" y="128.5"/><rect x="588.8" y="125.7"/><rect x="546.0" y="126.4"/><rect x="421.0" y="219.2"/><rect x="431.9" y="212.9"/><rect x="426.3" y="216.6"/><rect x="535.8" y="154.4"/><rect x="417.6" y="221.9"/><rect x="565.8" y="129.7"/><rect x="604.7" y="92.6"/><rect x="447.3" y="201.0"/><rect x="426.3" y="215.8"/><rect x="569.3" y="137.5"/><rect x="654.7" y="95.8"/><rect x="481.0" y="179.5"/><rect x="525.2" y="156.8"/><rect x="545.7" y="139.9"/><rect x="421.7" y="219.2"/><rect x="427.4" y="216.5"/><rect x="424.0" y="217.6"/><rect x="559.3" y="144.7"/><rect x="417.9" y="221.6"/><rect x="417.4" y="222.1"/><rect x="634.2" y="129.8"/><rect x="660.8" y="81.2"/><rect x="496.6" y="173.1"/><rect x="575.5" y="124.8"/><rect x="419.9" y="220.7"/><rect x="502.2" y="157.6"/><rect x="467.9" y="189.9"/><rect x="489.4" y="180.7"/><rect x="431.4" y="213.1"/><rect x="422.6" y="217.7"/><rect x="669.1" y="102.8"/><rect x="428.4" y="215.3"/><rect x="476.6" y="183.1"/><rect x="469.8" y="183.8"/><rect x="547.0" y="132.2"/><rect x="476.7" y="182.8"/><rect x="451.9" y="201.0"/><rect x="573.4" y="137.4"/><rect x="430.7" y="212.7"/><rect x="584.8" y="126.7"/><rect x="549.5" y="135.3"/><rect x="545.6" y="148.8"/><rect x="449.2" y="203.4"/><rect x="419.6" y="220.7"/><rect x="549.7" y="140.6"/><rect x="653.4" y="47.9"/><rect x="479.6" y="175.6"/><rect x="609.0" y="86.5"/><rect x="419.8" y="220.3"/><rect x="466.9" y="190.9"/><rect x="448.3" y="199.0"/><rect x="534.0" y="148.6"/><rect x="429.5" y="213.7"/><rect x="507.3" y="166.1"/><rect x="426.9" y="216.2"/><rect x="427.8" y="215.6"/><rect x="425.8" y="217.0"/><rect x="462.9" y="189.4"/><rect x="554.2" y="133.9"/><rect x="421.9" y="218.4"/><rect x="454.2" y="198.1"/><rect x="439.0" y="208.4"/><rect x="561.9" y="135.3"/><rect x="640.0" y="119.3"/><rect x="578.6" y="130.2"/><rect x="437.5" y="208.7"/><rect x="423.5" y="217.9"/><rect x="417.1" y="222.4"/><rect x="432.7" y="212.6"/><rect x="453.6" y="196.1"/><rect x="517.5" y="164.2"/><rect x="441.4" y="207.2"/><rect x="430.8" y="213.7"/><rect x="425.7" y="217.0"/><rect x="461.5" y="192.0"/><rect x="518.8" y="160.1"/><rect x="426.8" y="215.8"/><rect x="422.3" y="218.0"/><rect x="431.4" y="213.3"/><rect x="444.3" y="204.9"/><rect x="566.0" y="133.6"/><rect x="422.6" y="217.5"/><rect x="570.8" y="129.2"/><rect x="428.4" y="215.2"/><rect x="481.6" y="181.7"/><rect x="433.8" y="211.9"/><rect x="521.9" y="158.7"/><rect x="433.7" y="211.4"/><rect x="521.0" y="155.4"/><rect x="428.0" y="213.2"/><rect x="464.0" y="193.8"/><rect x="573.1" y="131.3"/><rect x="424.9" y="217.5"/><rect x="495.5" y="175.2"/><rect x="430.3" y="211.9"/><rect x="428.9" y="214.6"/><rect x="458.5" y="196.1"/><rect x="532.7" y="134.7"/><rect x="561.5" y="132.2"/><rect x="476.4" y="181.0"/><rect x="417.5" y="221.2"/><rect x="580.4" y="121.2"/><rect x="469.1" y="182.8"/><rect x="578.1" y="135.1"/><rect x="433.5" y="211.1"/><rect x="537.5" y="147.1"/><rect x="444.0" y="203.8"/><rect x="572.4" y="132.3"/><rect x="439.1" y="208.5"/><rect x="418.4" y="220.5"/><rect x="417.3" y="222.2"/><rect x="433.8" y="209.4"/><rect x="610.6" y="108.5"/><rect x="472.3" y="188.6"/><rect x="427.4" y="215.7"/><rect x="591.2" y="110.0"/><rect x="587.8" y="122.0"/><rect x="570.0" y="125.5"/><rect x="511.3" y="150.7"/><rect x="638.1" y="82.7"/><rect x="450.2" y="200.8"/><rect x="552.9" y="144.8"/><rect x="614.5" y="124.1"/><rect x="434.4" y="208.5"/><rect x="457.0" y="196.0"/><rect x="418.3" y="221.2"/><rect x="422.1" y="219.3"/><rect x="579.0" y="130.0"/><rect x="418.7" y="220.6"/><rect x="425.0" y="217.1"/><rect x="570.5" y="115.6"/><rect x="417.5" y="221.1"/><rect x="547.4" y="147.3"/><rect x="418.0" y="221.4"/><rect x="551.4" y="139.9"/><rect x="417.9" y="220.9"/><rect x="556.7" y="120.8"/><rect x="418.3" y="221.3"/><rect x="433.6" y="211.7"/><rect x="418.5" y="221.1"/><rect x="532.3" y="148.8"/><rect x="418.2" y="221.4"/><rect x="589.6" y="126.9"/><rect x="447.5" y="202.1"/><rect x="526.7" y="161.7"/><rect x="534.5" y="152.5"/><rect x="421.2" y="219.8"/><rect x="417.2" y="222.1"/><rect x="554.1" y="145.7"/><rect x="630.6" y="106.2"/><rect x="514.3" y="163.3"/><rect x="439.5" y="205.2"/><rect x="445.4" y="204.2"/><rect x="417.8" y="221.4"/><rect x="577.5" y="124.5"/><rect x="669.1" y="58.3"/><rect x="418.6" y="221.6"/><rect x="502.7" y="169.3"/><rect x="423.8" y="217.0"/><rect x="430.3" y="214.9"/><rect x="421.9" y="219.1"/><rect x="624.2" y="69.0"/><rect x="450.5" y="197.4"/><rect x="437.7" y="208.6"/><rect x="426.8" y="215.8"/><rect x="417.8" y="221.8"/><rect x="435.7" y="207.1"/><rect x="433.5" y="210.8"/><rect x="444.2" y="204.9"/><rect x="423.3" y="218.3"/><rect x="659.9" y="68.1"/><rect x="537.8" y="147.3"/><rect x="563.0" y="136.9"/><rect x="420.2" y="220.2"/><rect x="451.3" y="199.0"/><rect x="549.3" y="138.8"/><rect x="417.7" y="221.0"/><rect x="417.9" y="221.7"/><rect x="555.9" y="137.7"/><rect x="419.9" y="220.3"/><rect x="463.5" y="194.9"/><rect x="518.2" y="151.5"/><rect x="451.7" y="195.8"/><rect x="637.1" y="96.8"/><rect x="417.6" y="221.6"/><rect x="422.1" y="217.6"/><rect x="430.7" y="212.3"/><rect x="443.6" y="205.2"/><rect x="438.4" y="209.0"/><rect x="483.8" y="170.7"/><rect x="428.3" y="215.6"/><rect x="512.3" y="163.1"/><rect x="425.0" y="215.4"/><rect x="429.8" y="212.1"/><rect x="427.4" y="215.6"/><rect x="542.5" y="146.9"/><rect x="418.6" y="220.4"/><rect x="657.0" y="63.5"/><rect x="420.5" y="220.1"/><rect x="650.7" y="86.9"/><rect x="418.2" y="221.0"/><rect x="470.4" y="185.2"/><rect x="417.8" y="221.5"/><rect x="512.4" y="159.9"/><rect x="426.3" y="216.2"/><rect x="553.9" y="143.9"/><rect x="431.5" y="210.2"/><rect x="428.6" y="213.4"/><rect x="429.7" y="214.6"/><rect x="433.3" y="210.6"/><rect x="434.0" y="211.4"/><rect x="418.0" y="221.6"/><rect x="589.4" y="122.5"/><rect x="463.5" y="192.6"/><rect x="436.9" y="210.1"/><rect x="425.7" y="215.7"/><rect x="618.9" y="106.1"/><rect x="645.9" y="63.7"/><rect x="614.0" y="120.0"/><rect x="460.3" y="194.3"/><rect x="465.8" y="193.6"/><rect x="421.4" y="219.5"/><rect x="460.1" y="194.8"/><rect x="455.8" y="196.9"/><rect x="596.8" y="126.6"/><rect x="419.8" y="220.5"/><rect x="418.6" y="221.2"/><rect x="478.9" y="181.2"/><rect x="424.7" y="216.3"/><rect x="512.3" y="164.2"/><rect x="437.4" y="209.5"/><rect x="542.8" y="144.7"/><rect x="571.2" y="130.0"/><rect x="435.9" y="210.2"/><rect x="486.8" y="179.3"/><rect x="442.9" y="205.9"/><rect x="505.5" y="162.0"/><rect x="455.9" y="199.5"/><rect x="433.6" y="212.1"/><rect x="665.9" y="65.8"/><rect x="417.9" y="221.7"/><rect x="439.3" y="208.0"/><rect x="423.8" y="217.9"/><rect x="422.8" y="218.0"/><rect x="432.8" y="213.0"/><rect x="572.7" y="129.4"/><rect x="427.9" y="215.7"/><rect x="426.4" y="216.7"/><rect x="604.3" y="107.1"/><rect x="431.4" y="213.4"/><rect x="622.8" y="90.5"/><rect x="490.8" y="171.2"/><rect x="417.3" y="221.3"/><rect x="436.4" y="208.2"/><rect x="417.4" y="221.8"/><rect x="421.6" y="218.4"/><rect x="420.8" y="220.1"/><rect x="419.6" y="219.5"/><rect x="479.2" y="185.6"/><rect x="543.2" y="149.0"/><rect x="590.5" y="124.4"/><rect x="419.9" y="220.2"/><rect x="439.1" y="207.4"/><rect x="432.7" y="211.9"/><rect x="448.5" y="200.8"/><rect x="417.2" y="221.9"/><rect x="630.9" y="90.1"/><rect x="478.3" y="178.5"/><rect x="537.5" y="137.9"/><rect x="466.2" y="191.2"/><rect x="419.0" y="221.0"/><rect x="421.7" y="218.9"/><rect x="507.2" y="164.7"/><rect x="426.8" y="216.2"/><rect x="580.8" y="122.2"/><rect x="451.8" y="196.4"/><rect x="607.4" y="124.1"/><rect x="417.8" y="221.6"/><rect x="478.6" y="180.3"/><rect x="422.5" y="218.4"/><rect x="499.9" y="168.0"/><rect x="422.5" y="218.9"/><rect x="422.2" y="219.1"/><rect x="486.1" y="180.6"/><rect x="516.0" y="161.4"/><rect x="613.7" y="113.4"/><rect x="417.1" y="222.4"/><rect x="423.4" y="217.0"/><rect x="445.8" y="204.7"/><rect x="509.6" y="163.0"/><rect x="439.4" y="208.2"/><rect x="541.7" y="129.2"/><rect x="419.0" y="220.8"/><rect x="563.2" y="137.4"/><rect x="606.7" y="84.6"/><rect x="429.5" y="214.6"/><rect x="595.1" y="112.4"/><rect x="515.9" y="165.9"/><rect x="434.7" y="210.4"/><rect x="417.3" y="222.0"/><rect x="430.8" y="213.3"/><rect x="607.5" y="127.8"/><rect x="421.5" y="219.9"/><rect x="561.1" y="131.0"/><rect x="529.6" y="153.7"/><rect x="455.9" y="193.4"/><rect x="546.9" y="140.9"/><rect x="422.2" y="218.6"/><rect x="419.7" y="219.8"/><rect x="537.5" y="149.8"/><rect x="533.5" y="151.9"/><rect x="435.2" y="208.1"/><rect x="430.9" y="211.0"/><rect x="428.8" y="213.7"/><rect x="592.5" y="101.0"/><rect x="442.0" y="207.2"/><rect x="419.3" y="220.7"/><rect x="427.5" y="215.3"/><rect x="527.1" y="148.9"/><rect x="417.9" y="221.5"/><rect x="439.7" y="204.6"/><rect x="470.3" y="189.2"/><rect x="461.8" y="194.0"/><rect x="440.5" y="209.0"/><rect x="425.9" y="216.5"/><rect x="476.5" y="184.2"/><rect x="456.6" y="194.6"/><rect x="498.6" y="170.8"/><rect x="503.5" y="166.7"/><rect x="600.2" y="90.1"/><rect x="433.0" y="209.3"/><rect x="666.6" y="78.2"/><rect x="569.1" y="109.3"/><rect x="535.9" y="137.1"/><rect x="419.8" y="220.6"/><rect x="492.0" y="176.2"/><rect x="451.4" y="202.6"/><rect x="445.7" y="204.9"/><rect x="420.5" y="220.0"/><rect x="437.3" y="207.5"/><rect x="421.4" y="219.7"/><rect x="445.7" y="205.4"/><rect x="669.1" y="71.0"/><rect x="419.9" y="220.6"/><rect x="420.1" y="220.4"/><rect x="514.9" y="167.3"/><rect x="626.0" y="71.4"/><rect x="543.3" y="149.1"/><rect x="426.2" y="216.6"/><rect x="448.4" y="202.5"/><rect x="431.4" y="212.5"/><rect x="530.7" y="152.6"/><rect x="602.9" y="119.4"/><rect x="435.7" y="209.2"/><rect x="478.3" y="183.6"/><rect x="607.8" y="96.2"/><rect x="423.2" y="218.1"/><rect x="462.2" y="194.4"/><rect x="453.9" y="197.9"/><rect x="665.1" y="89.7"/><rect x="641.5" y="111.9"/><rect x="529.7" y="152.3"/><rect x="425.7" y="216.3"/><rect x="422.9" y="218.5"/><rect x="578.2" y="127.4"/><rect x="429.7" y="214.8"/><rect x="453.9" y="197.1"/><rect x="417.4" y="221.9"/><rect x="426.8" y="215.8"/><rect x="583.4" y="125.8"/><rect x="624.5" y="104.2"/><rect x="424.1" y="217.4"/><rect x="637.8" y="84.7"/><rect x="484.6" y="173.1"/><rect x="420.2" y="220.2"/><rect x="461.9" y="195.4"/><rect x="437.4" y="208.5"/><rect x="589.2" y="118.8"/><rect x="559.6" y="131.3"/><rect x="531.3" y="155.9"/><rect x="644.5" y="96.9"/><rect x="461.7" y="192.5"/><rect x="496.6" y="168.6"/><rect x="419.1" y="221.1"/><rect x="454.6" y="200.0"/><rect x="602.6" y="91.7"/><rect x="521.1" y="159.3"/><rect x="454.5" y="197.8"/><rect x="442.0" y="206.6"/><rect x="521.1" y="156.1"/><rect x="613.2" y="80.5"/><rect x="481.8" y="184.4"/><rect x="483.8" y="177.4"/><rect x="555.9" y="134.5"/><rect x="460.5" y="196.0"/><rect x="485.6" y="179.5"/><rect x="422.6" y="218.5"/><rect x="424.1" y="218.0"/><rect x="508.8" y="167.6"/><rect x="429.0" y="214.6"/><rect x="421.7" y="218.7"/><rect x="465.8" y="185.7"/><rect x="448.9" y="201.9"/><rect x="417.2" y="222.1"/><rect x="432.9" y="212.9"/><rect x="515.1" y="165.0"/><rect x="442.3" y="206.4"/><rect x="574.1" y="132.9"/><rect x="425.5" y="217.6"/><rect x="435.9" y="211.6"/><rect x="425.9" y="216.8"/><rect x="584.4" y="131.0"/><rect x="419.9" y="220.5"/><rect x="653.2" y="98.8"/><rect x="434.3" y="211.5"/><rect x="428.0" y="215.0"/><rect x="432.3" y="212.8"/><rect x="435.9" y="210.1"/><rect x="432.8" y="212.1"/><rect x="530.5" y="156.6"/><rect x="449.7" y="198.9"/><rect x="633.6" y="123.0"/><rect x="424.4" y="217.8"/><rect x="493.1" y="169.5"/><rect x="423.3" y="218.7"/><rect x="452.9" y="198.8"/><rect x="641.2" y="106.0"/><rect x="430.8" y="214.0"/><rect x="417.4" y="221.7"/><rect x="466.1" y="186.9"/><rect x="450.4" y="200.3"/><rect x="420.3" y="220.2"/><rect x="531.0" y="155.0"/><rect x="649.4" y="82.3"/><rect x="454.6" y="193.8"/><rect x="451.5" y="195.1"/><rect x="422.0" y="218.8"/><rect x="651.3" y="75.2"/><rect x="427.3" y="213.6"/><rect x="435.3" y="211.2"/><rect x="532.1" y="147.6"/><rect x="625.0" y="103.5"/><rect x="420.1" y="220.4"/><rect x="422.9" y="218.8"/><rect x="514.8" y="161.5"/><rect x="588.4" y="120.6"/><rect x="585.7" y="117.7"/><rect x="418.3" y="221.5"/><rect x="439.4" y="208.7"/><rect x="579.4" y="133.2"/><rect x="477.0" y="187.0"/><rect x="422.9" y="219.0"/><rect x="643.3" y="117.9"/><rect x="421.4" y="219.7"/><rect x="459.7" y="192.7"/><rect x="543.6" y="150.6"/><rect x="417.9" y="221.8"/><rect x="427.6" y="214.3"/><rect x="445.7" y="205.8"/><rect x="418.1" y="221.7"/><rect x="417.2" y="221.7"/><rect x="445.2" y="199.7"/><rect x="418.1" y="221.3"/><rect x="421.7" y="219.0"/><rect x="511.2" y="162.0"/><rect x="477.3" y="176.7"/><rect x="530.2" y="154.5"/><rect x="465.3" y="190.4"/><rect x="554.8" y="143.1"/><rect x="512.1" y="161.7"/><rect x="418.1" y="221.7"/><rect x="420.8" y="220.0"/><rect x="423.5" y="218.2"/><rect x="463.7" y="192.0"/><rect x="437.8" y="209.4"/><rect x="420.8" y="219.9"/><rect x="567.7" y="136.5"/><rect x="419.5" y="220.7"/><rect x="431.6" y="213.2"/><rect x="492.7" y="168.7"/><rect x="524.0" y="152.5"/><rect x="452.5" y="200.0"/><rect x="461.9" y="194.6"/><rect x="417.6" y="221.8"/><rect x="606.6" y="121.3"/><rect x="454.5" y="199.6"/><rect x="447.9" y="197.9"/><rect x="442.1" y="205.6"/><rect x="430.7" y="213.8"/><rect x="420.5" y="219.9"/><rect x="513.1" y="160.1"/><rect x="427.0" y="214.3"/><rect x="465.8" y="194.2"/><rect x="418.1" y="221.6"/><rect x="424.8" y="216.7"/><rect x="594.8" y="93.9"/><rect x="429.1" y="212.5"/><rect x="419.9" y="220.0"/><rect x="515.4" y="164.3"/><rect x="498.3" y="172.8"/><rect x="668.0" y="92.6"/><rect x="429.1" y="214.3"/><rect x="596.6" y="129.6"/><rect x="419.0" y="220.9"/><rect x="484.1" y="180.6"/><rect x="456.1" y="199.8"/><rect x="435.1" y="211.8"/><rect x="422.9" y="217.2"/><rect x="427.8" y="215.4"/><rect x="599.0" y="117.1"/><rect x="422.1" y="219.0"/><rect x="558.0" y="141.8"/><rect x="437.7" y="209.5"/><rect x="502.7" y="168.9"/><rect x="437.6" y="209.2"/><rect x="435.2" y="207.8"/><rect x="646.0" y="78.2"/><rect x="496.2" y="172.3"/><rect x="419.7" y="220.4"/><rect x="422.8" y="218.5"/><rect x="559.7" y="142.6"/><rect x="582.1" y="124.0"/><rect x="575.8" y="123.0"/><rect x="522.3" y="158.7"/><rect x="458.5" y="195.4"/><rect x="549.1" y="128.3"/><rect x="455.8" y="192.6"/><rect x="493.8" y="174.9"/><rect x="475.0" y="187.0"/><rect x="419.5" y="220.7"/><rect x="431.6" y="213.4"/><rect x="419.9" y="220.4"/><rect x="509.3" y="165.6"/><rect x="519.8" y="158.7"/><rect x="526.0" y="154.8"/><rect x="500.5" y="161.1"/><rect x="418.7" y="221.1"/><rect x="424.1" y="217.7"/><rect x="518.3" y="165.2"/><rect x="422.1" y="219.2"/><rect x="541.2" y="142.9"/><rect x="526.5" y="156.4"/><rect x="425.3" y="217.2"/><rect x="449.1" y="202.4"/><rect x="537.0" y="148.4"/><rect x="474.9" y="184.8"/><rect x="579.4" y="132.1"/><rect x="663.8" y="58.5"/><rect x="440.2" y="208.2"/><rect x="444.5" y="206.5"/><rect x="536.1" y="147.0"/><rect x="444.2" y="205.0"/><rect x="418.3" y="221.1"/><rect x="455.3" y="197.5"/><rect x="504.9" y="170.1"/><rect x="491.9" y="177.6"/><rect x="425.2" y="216.8"/><rect x="507.0" y="168.3"/><rect x="427.9" y="215.2"/><rect x="431.5" y="212.6"/><rect x="540.0" y="149.8"/><rect x="647.8" y="65.8"/><rect x="514.8" y="163.5"/><rect x="633.0" y="76.4"/><rect x="449.0" y="201.8"/><rect x="563.7" y="129.1"/><rect x="472.5" y="187.9"/><rect x="422.7" y="218.5"/><rect x="430.7" y="213.5"/><rect x="450.9" y="198.0"/><rect x="447.9" y="203.4"/><rect x="434.5" y="208.3"/><rect x="470.4" y="188.0"/><rect x="552.2" y="140.9"/><rect x="427.0" y="214.7"/><rect x="632.7" y="104.9"/><rect x="424.9" y="217.5"/><rect x="420.7" y="218.6"/><rect x="420.2" y="219.1"/><rect x="516.8" y="160.6"/><rect x="421.0" y="219.8"/><rect x="432.8" y="211.5"/><rect x="420.1" y="220.2"/><rect x="429.3" y="213.0"/><rect x="430.8" y="214.0"/><rect x="424.5" y="217.5"/><rect x="417.6" y="221.9"/><rect x="549.4" y="146.8"/><rect x="424.2" y="216.7"/><rect x="431.3" y="213.2"/><rect x="489.9" y="175.8"/><rect x="426.4" y="216.1"/><rect x="583.0" y="121.6"/><rect x="465.4" y="192.1"/><rect x="430.8" y="213.2"/><rect x="432.2" y="213.8"/><rect x="421.5" y="219.4"/><rect x="504.3" y="171.5"/><rect x="563.6" y="118.2"/><rect x="420.8" y="220.1"/><rect x="487.6" y="179.8"/><rect x="537.8" y="150.8"/><rect x="433.6" y="212.2"/><rect x="418.7" y="220.8"/><rect x="567.1" y="113.3"/><rect x="424.7" y="217.4"/><rect x="526.6" y="157.6"/><rect x="472.5" y="188.8"/><rect x="417.4" y="221.9"/><rect x="465.1" y="192.2"/><rect x="563.3" y="131.7"/><rect x="437.4" y="209.4"/><rect x="642.4" y="72.9"/><rect x="421.4" y="218.9"/><rect x="428.5" y="215.4"/><rect x="431.4" y="212.9"/><rect x="511.2" y="156.0"/><rect x="669.1" y="101.6"/><rect x="480.0" y="176.1"/><rect x="488.2" y="173.0"/><rect x="448.0" y="203.5"/><rect x="551.7" y="130.6"/><rect x="433.4" y="211.5"/><rect x="445.2" y="202.4"/><rect x="578.0" y="125.7"/><rect x="428.0" y="215.0"/><rect x="444.1" y="204.8"/><rect x="434.2" y="211.2"/><rect x="493.8" y="174.9"/><rect x="476.7" y="183.6"/><rect x="487.6" y="172.5"/><rect x="447.0" y="204.2"/><rect x="476.2" y="183.7"/><rect x="651.1" y="57.0"/><rect x="472.7" y="179.2"/><rect x="429.4" y="214.5"/><rect x="613.9" y="128.2"/><rect x="513.1" y="152.0"/><rect x="652.1" y="72.9"/><rect x="533.8" y="153.2"/><rect x="659.5" y="99.4"/><rect x="419.0" y="220.9"/><rect x="428.3" y="215.1"/><rect x="549.8" y="144.6"/><rect x="500.2" y="169.6"/><rect x="475.1" y="187.9"/><rect x="669.1" y="40.0"/><rect x="462.6" y="193.5"/><rect x="422.2" y="219.5"/><rect x="447.7" y="203.2"/><rect x="440.0" y="207.1"/><rect x="429.1" y="212.3"/><rect x="417.2" y="221.9"/><rect x="428.5" y="215.4"/><rect x="514.5" y="153.6"/><rect x="461.6" y="191.6"/><rect x="436.4" y="210.2"/><rect x="421.6" y="218.5"/><rect x="556.9" y="135.3"/><rect x="515.7" y="158.7"/><rect x="554.0" y="139.7"/><rect x="420.8" y="220.2"/><rect x="432.2" y="209.8"/><rect x="443.9" y="203.4"/><rect x="525.4" y="156.8"/><rect x="518.4" y="145.6"/><rect x="448.3" y="198.5"/><rect x="432.8" y="212.6"/><rect x="466.6" y="191.6"/><rect x="546.2" y="142.4"/><rect x="453.1" y="201.1"/><rect x="449.6" y="198.4"/><rect x="419.2" y="220.7"/><rect x="588.5" y="120.6"/><rect x="568.1" y="131.5"/><rect x="584.1" y="112.4"/><rect x="668.9" y="37.1"/><rect x="439.5" y="209.1"/><rect x="448.6" y="199.9"/><rect x="428.4" y="214.8"/><rect x="562.5" y="135.5"/><rect x="455.6" y="198.9"/><rect x="481.4" y="183.4"/><rect x="501.7" y="171.4"/><rect x="666.1" y="45.4"/><rect x="612.2" y="108.6"/><rect x="669.1" y="64.6"/><rect x="427.4" y="215.8"/><rect x="478.1" y="183.6"/><rect x="440.0" y="207.7"/><rect x="482.7" y="180.8"/><rect x="505.9" y="166.8"/><rect x="431.2" y="212.2"/><rect x="420.7" y="220.0"/><rect x="449.3" y="201.4"/><rect x="457.3" y="197.1"/><rect x="645.4" y="53.7"/><rect x="521.8" y="159.0"/><rect x="424.3" y="217.6"/><rect x="430.8" y="213.9"/><rect x="416.8" y="222.6"/><rect x="482.2" y="180.3"/><rect x="571.7" y="130.9"/><rect x="443.8" y="202.9"/><rect x="439.9" y="206.0"/><rect x="427.4" y="215.9"/><rect x="424.1" y="217.5"/><rect x="575.9" y="126.2"/><rect x="429.2" y="215.0"/><rect x="596.2" y="124.0"/><rect x="658.7" y="66.0"/><rect x="427.7" y="215.4"/><rect x="417.7" y="221.9"/><rect x="472.8" y="186.8"/><rect x="499.9" y="166.0"/><rect x="426.9" y="215.3"/><rect x="416.9" y="222.4"/><rect x="544.8" y="130.7"/><rect x="417.0" y="221.5"/><rect x="452.7" y="200.2"/><rect x="583.5" y="124.9"/><rect x="419.5" y="220.8"/><rect x="418.1" y="221.9"/><rect x="504.7" y="160.5"/><rect x="418.2" y="220.9"/><rect x="419.5" y="220.5"/><rect x="474.8" y="186.2"/><rect x="631.3" y="94.1"/><rect x="420.1" y="220.3"/><rect x="596.8" y="95.6"/><rect x="586.6" y="118.3"/><rect x="432.1" y="213.3"/><rect x="440.9" y="206.7"/><rect x="419.9" y="220.2"/><rect x="571.9" y="109.6"/><rect x="555.1" y="136.3"/><rect x="455.3" y="192.0"/><rect x="484.4" y="180.9"/><rect x="432.1" y="212.4"/><rect x="418.9" y="220.3"/><rect x="439.3" y="207.7"/><rect x="662.2" y="73.5"/><rect x="443.4" y="206.2"/><rect x="431.4" y="214.0"/><rect x="669.1" y="95.6"/><rect x="446.3" y="204.3"/><rect x="426.0" y="216.6"/><rect x="443.5" y="206.2"/><rect x="423.4" y="217.2"/><rect x="513.4" y="153.2"/><rect x="441.3" y="203.4"/><rect x="440.2" y="208.5"/><rect x="466.1" y="186.4"/><rect x="441.0" y="207.7"/><rect x="463.6" y="186.2"/><rect x="492.1" y="174.9"/><rect x="453.5" y="195.5"/><rect x="435.3" y="211.1"/><rect x="417.3" y="222.1"/><rect x="452.5" y="199.1"/><rect x="628.4" y="83.4"/><rect x="454.6" y="199.0"/><rect x="519.3" y="157.1"/><rect x="646.4" y="90.1"/><rect x="470.8" y="188.9"/><rect x="669.1" y="82.0"/><rect x="419.0" y="219.9"/><rect x="553.9" y="142.2"/><rect x="455.1" y="195.0"/><rect x="443.0" y="205.1"/><rect x="436.8" y="210.0"/><rect x="420.2" y="220.0"/><rect x="470.6" y="186.8"/><rect x="465.4" y="184.5"/><rect x="621.1" y="88.0"/><rect x="448.8" y="202.6"/><rect x="445.0" y="202.3"/><rect x="419.3" y="220.9"/><rect x="443.3" y="205.6"/><rect x="426.9" y="215.7"/><rect x="433.1" y="211.9"/><rect x="416.9" y="222.4"/><rect x="497.4" y="170.4"/><rect x="466.9" y="190.3"/><rect x="502.3" y="162.4"/><rect x="417.0" y="222.1"/><rect x="567.0" y="133.4"/><rect x="438.4" y="209.8"/><rect x="424.0" y="217.6"/><rect x="589.4" y="107.9"/><rect x="419.6" y="220.8"/><rect x="420.4" y="220.1"/><rect x="527.3" y="154.1"/><rect x="559.7" y="131.6"/><rect x="441.5" y="204.0"/><rect x="573.4" y="133.3"/><rect x="420.4" y="220.2"/><rect x="609.2" y="126.5"/><rect x="474.7" y="186.3"/><rect x="501.9" y="172.0"/><rect x="529.3" y="153.8"/><rect x="479.0" y="174.5"/><rect x="460.1" y="188.6"/><rect x="422.9" y="218.2"/><rect x="424.9" y="217.5"/><rect x="434.4" y="210.9"/><rect x="430.1" y="214.6"/><rect x="428.9" y="215.0"/><rect x="456.7" y="195.4"/><rect x="432.8" y="212.5"/><rect x="421.6" y="219.4"/><rect x="618.0" y="110.5"/><rect x="669.1" y="75.0"/><rect x="456.1" y="198.5"/><rect x="424.5" y="217.4"/><rect x="418.5" y="221.2"/><rect x="417.8" y="221.2"/><rect x="457.4" y="191.7"/><rect x="494.9" y="176.6"/><rect x="453.2" y="200.3"/><rect x="603.3" y="83.8"/><rect x="451.2" y="199.5"/><rect x="583.4" y="123.3"/><rect x="443.4" y="206.6"/><rect x="562.3" y="135.0"/><rect x="533.6" y="154.7"/><rect x="486.7" y="181.2"/><rect x="490.7" y="175.8"/><rect x="502.6" y="163.9"/><rect x="473.7" y="180.8"/><rect x="420.4" y="219.7"/><rect x="433.7" y="212.4"/><rect x="421.7" y="219.0"/><rect x="572.7" y="134.8"/><rect x="525.1" y="158.2"/><rect x="573.2" y="129.9"/><rect x="566.1" y="132.6"/><rect x="569.9" y="136.0"/><rect x="669.1" y="66.0"/><rect x="528.9" y="155.1"/><rect x="463.5" y="191.8"/><rect x="554.2" y="142.6"/><rect x="458.8" y="195.3"/><rect x="480.5" y="180.9"/><rect x="607.9" y="118.1"/><rect x="420.6" y="219.7"/><rect x="456.3" y="194.3"/><rect x="470.3" y="188.3"/><rect x="526.0" y="140.0"/><rect x="416.9" y="221.7"/><rect x="429.1" y="212.7"/><rect x="501.1" y="174.9"/><rect x="603.1" y="126.0"/><rect x="576.7" y="128.2"/><rect x="458.4" y="197.4"/><rect x="444.4" y="201.0"/><rect x="423.5" y="218.1"/><rect x="567.1" y="130.4"/><rect x="423.2" y="216.7"/><rect x="429.9" y="213.1"/><rect x="666.3" y="97.0"/><rect x="442.0" y="206.8"/><rect x="440.5" y="208.2"/><rect x="430.1" y="211.2"/><rect x="547.8" y="141.7"/><rect x="446.7" y="204.4"/><rect x="441.3" y="202.9"/><rect x="558.0" y="138.3"/><rect x="647.3" y="114.7"/><rect x="417.6" y="220.9"/><rect x="459.7" y="195.5"/><rect x="417.4" y="221.6"/><rect x="582.4" y="126.9"/><rect x="518.4" y="164.5"/><rect x="423.3" y="218.4"/><rect x="440.2" y="208.1"/><rect x="420.5" y="219.7"/><rect x="669.1" y="120.3"/><rect x="432.8" y="211.4"/><rect x="534.8" y="153.5"/><rect x="536.7" y="131.7"/><rect x="666.2" y="110.7"/><rect x="417.4" y="221.5"/><rect x="514.3" y="165.4"/><rect x="439.4" y="208.7"/><rect x="533.7" y="148.9"/><rect x="466.7" y="190.0"/><rect x="424.5" y="217.7"/><rect x="518.7" y="161.7"/><rect x="419.3" y="221.0"/><rect x="551.6" y="141.7"/><rect x="425.3" y="216.8"/><rect x="417.1" y="221.7"/><rect x="532.1" y="152.3"/><rect x="490.9" y="173.9"/><rect x="417.0" y="222.1"/><rect x="669.1" y="79.3"/><rect x="441.2" y="208.3"/><rect x="578.3" y="122.1"/><rect x="589.2" y="128.7"/><rect x="470.7" y="191.1"/><rect x="465.6" y="192.5"/><rect x="550.5" y="129.9"/><rect x="456.9" y="196.4"/><rect x="594.4" y="103.0"/><rect x="489.2" y="177.5"/><rect x="422.1" y="218.5"/><rect x="539.3" y="151.6"/><rect x="479.3" y="182.7"/><rect x="532.7" y="139.7"/><rect x="500.2" y="168.8"/><rect x="610.0" y="79.1"/><rect x="434.2" y="210.1"/><rect x="539.4" y="148.2"/><rect x="441.2" y="207.3"/><rect x="417.2" y="221.8"/><rect x="452.8" y="198.0"/><rect x="433.7" y="209.2"/><rect x="581.1" y="108.3"/><rect x="417.8" y="221.8"/><rect x="452.9" y="200.9"/><rect x="418.4" y="221.5"/><rect x="425.0" y="217.4"/><rect x="486.5" y="178.9"/><rect x="420.2" y="219.1"/><rect x="603.5" y="102.1"/><rect x="479.6" y="184.7"/><rect x="499.7" y="166.6"/><rect x="666.3" y="63.8"/><rect x="506.0" y="165.1"/><rect x="540.9" y="144.8"/><rect x="418.4" y="221.3"/><rect x="544.1" y="147.0"/><rect x="481.9" y="185.0"/><rect x="579.2" y="128.8"/><rect x="429.3" y="215.2"/><rect x="515.7" y="164.3"/><rect x="513.0" y="163.6"/><rect x="420.4" y="220.2"/><rect x="417.1" y="222.1"/><rect x="448.9" y="203.0"/><rect x="442.4" y="202.2"/><rect x="669.1" y="52.7"/><rect x="426.8" y="215.5"/><rect x="520.1" y="153.5"/><rect x="419.6" y="221.0"/><rect x="573.5" y="125.0"/><rect x="491.5" y="176.7"/><rect x="424.5" y="215.7"/><rect x="639.0" y="69.2"/><rect x="430.1" y="213.7"/><rect x="494.6" y="172.8"/><rect x="425.3" y="216.3"/><rect x="434.2" y="210.5"/><rect x="421.7" y="219.5"/><rect x="636.9" y="58.5"/><rect x="424.8" y="217.0"/><rect x="436.7" y="209.8"/><rect x="451.7" y="200.6"/><rect x="539.1" y="149.2"/><rect x="468.2" y="190.4"/><rect x="422.0" y="219.2"/><rect x="534.1" y="152.3"/><rect x="518.5" y="160.8"/><rect x="426.0" y="215.2"/><rect x="425.8" y="216.0"/><rect x="426.9" y="213.9"/><rect x="419.8" y="220.4"/><rect x="419.6" y="220.5"/><rect x="455.2" y="196.3"/><rect x="632.5" y="99.7"/><rect x="486.8" y="177.4"/><rect x="660.0" y="105.4"/><rect x="423.2" y="218.0"/><rect x="424.1" y="217.8"/><rect x="416.9" y="222.2"/><rect x="420.2" y="220.5"/><rect x="421.8" y="219.3"/><rect x="458.7" y="197.8"/><rect x="425.4" y="215.1"/><rect x="481.7" y="172.3"/><rect x="470.6" y="190.0"/><rect x="468.5" y="191.6"/><rect x="443.4" y="206.2"/><rect x="655.8" y="108.5"/><rect x="493.8" y="170.9"/><rect x="425.9" y="214.7"/><rect x="422.8" y="217.0"/><rect x="421.0" y="219.7"/><rect x="530.1" y="156.2"/><rect x="418.3" y="221.5"/><rect x="564.3" y="138.7"/><rect x="539.4" y="151.6"/><rect x="432.7" y="211.9"/><rect x="563.0" y="126.5"/><rect x="421.4" y="219.2"/><rect x="595.6" y="120.8"/><rect x="436.0" y="210.4"/><rect x="454.0" y="199.3"/><rect x="564.4" y="136.6"/><rect x="661.5" y="86.8"/><rect x="506.2" y="156.1"/><rect x="423.4" y="218.1"/><rect x="457.4" y="198.0"/><rect x="426.8" y="216.3"/><rect x="424.0" y="216.1"/><rect x="428.9" y="213.9"/><rect x="425.7" y="216.5"/><rect x="446.1" y="201.5"/><rect x="624.6" y="79.2"/><rect x="423.1" y="218.6"/><rect x="431.5" y="213.6"/><rect x="486.7" y="170.1"/><rect x="430.2" y="214.2"/><rect x="468.0" y="185.8"/><rect x="541.7" y="145.6"/><rect x="435.1" y="210.7"/><rect x="417.2" y="222.2"/><rect x="417.6" y="222.1"/><rect x="530.8" y="153.3"/><rect x="431.0" y="210.9"/><rect x="580.5" y="118.4"/><rect x="420.5" y="219.0"/><rect x="422.5" y="218.8"/><rect x="441.4" y="207.5"/><rect x="420.7" y="219.2"/><rect x="430.3" y="214.2"/><rect x="567.4" y="132.4"/><rect x="420.6" y="219.9"/><rect x="419.7" y="220.7"/><rect x="466.8" y="192.2"/><rect x="467.1" y="183.7"/><rect x="481.1" y="181.0"/><rect x="446.6" y="199.0"/><rect x="490.0" y="169.3"/><rect x="534.8" y="152.6"/><rect x="422.8" y="218.4"/><rect x="520.5" y="157.4"/><rect x="506.6" y="164.0"/><rect x="419.1" y="220.1"/><rect x="535.3" y="155.5"/><rect x="488.7" y="178.5"/><rect x="421.1" y="219.4"/><rect x="577.5" y="129.1"/><rect x="443.7" y="205.3"/><rect x="465.2" y="193.4"/><rect x="437.4" y="209.7"/><rect x="569.6" y="133.8"/><rect x="421.3" y="219.4"/><rect x="461.5" y="196.4"/><rect x="476.1" y="185.2"/><rect x="523.3" y="154.4"/><rect x="457.4" y="198.7"/><rect x="418.4" y="220.6"/><rect x="472.7" y="189.0"/><rect x="585.0" y="129.6"/><rect x="494.5" y="177.8"/><rect x="424.4" y="218.0"/><rect x="458.6" y="198.2"/><rect x="517.9" y="162.7"/><rect x="518.4" y="163.0"/><rect x="431.0" y="213.9"/><rect x="632.2" y="117.2"/><rect x="426.3" y="217.0"/><rect x="417.0" y="222.3"/><rect x="539.3" y="152.8"/><rect x="554.7" y="143.0"/><rect x="664.6" y="83.6"/><rect x="516.9" y="160.0"/><rect x="455.5" y="196.4"/><rect x="650.6" y="70.0"/><rect x="512.0" y="157.1"/><rect x="506.0" y="162.6"/><rect x="438.0" y="208.9"/><rect x="488.9" y="178.4"/><rect x="420.2" y="220.3"/><rect x="425.8" y="216.2"/><rect x="489.8" y="179.7"/><rect x="572.5" y="131.7"/><rect x="426.4" y="214.8"/><rect x="427.8" y="215.1"/><rect x="516.9" y="157.5"/><rect x="437.7" y="209.5"/><rect x="463.0" y="192.9"/><rect x="418.9" y="220.9"/><rect x="636.4" y="80.4"/><rect x="448.5" y="202.5"/><rect x="433.8" y="212.2"/><rect x="555.7" y="119.2"/><rect x="434.9" y="211.0"/><rect x="497.6" y="176.4"/><rect x="421.4" y="219.6"/><rect x="438.4" y="205.2"/><rect x="427.2" y="215.9"/><rect x="439.8" y="207.7"/><rect x="419.3" y="220.4"/><rect x="626.2" y="123.8"/><rect x="527.5" y="150.4"/><rect x="461.8" y="195.1"/><rect x="421.1" y="219.8"/><rect x="437.5" y="209.9"/><rect x="419.6" y="220.4"/><rect x="425.9" y="217.3"/><rect x="446.6" y="204.9"/><rect x="630.5" y="64.3"/><rect x="456.2" y="197.2"/><rect x="602.7" y="109.4"/><rect x="515.2" y="164.5"/><rect x="525.6" y="154.7"/><rect x="418.6" y="221.4"/><rect x="449.1" y="202.8"/><rect x="430.1" y="213.6"/><rect x="430.8" y="213.5"/><rect x="432.0" y="212.8"/><rect x="426.7" y="216.1"/><rect x="420.1" y="220.1"/><rect x="528.5" y="150.9"/><rect x="451.2" y="200.0"/><rect x="626.4" y="118.2"/><rect x="436.0" y="209.5"/><rect x="526.8" y="158.6"/><rect x="418.1" y="221.6"/><rect x="433.6" y="208.7"/><rect x="431.9" y="211.1"/><rect x="422.8" y="218.7"/><rect x="417.4" y="222.0"/><rect x="552.0" y="140.8"/><rect x="452.8" y="200.4"/><rect x="447.4" y="202.6"/><rect x="423.2" y="218.0"/><rect x="452.6" y="197.5"/><rect x="417.4" y="221.8"/><rect x="614.7" y="92.5"/><rect x="568.3" y="135.9"/><rect x="659.6" y="93.6"/><rect x="497.5" y="170.1"/><rect x="599.0" y="107.3"/><rect x="436.6" y="208.5"/><rect x="469.1" y="189.4"/><rect x="427.3" y="215.5"/><rect x="423.0" y="217.4"/><rect x="517.6" y="163.1"/><rect x="620.0" y="119.2"/><rect x="463.0" y="193.7"/><rect x="417.7" y="222.0"/><rect x="514.6" y="163.2"/><rect x="423.6" y="218.2"/><rect x="422.4" y="218.9"/><rect x="419.3" y="221.0"/><rect x="644.9" y="102.8"/><rect x="510.8" y="155.7"/><rect x="434.8" y="209.6"/><rect x="451.4" y="201.1"/><rect x="570.6" y="128.0"/><rect x="475.7" y="180.3"/><rect x="420.7" y="219.7"/><rect x="434.6" y="212.0"/><rect x="423.1" y="217.6"/><rect x="421.7" y="217.8"/><rect x="421.8" y="219.5"/><rect x="432.5" y="210.8"/><rect x="430.9" y="213.5"/><rect x="547.3" y="145.0"/><rect x="430.7" y="213.0"/><rect x="667.5" y="47.6"/><rect x="421.1" y="218.5"/><rect x="476.4" y="182.1"/><rect x="419.2" y="220.2"/><rect x="479.1" y="181.7"/><rect x="444.2" y="205.3"/><rect x="463.5" y="191.2"/><rect x="573.2" y="119.6"/><rect x="605.2" y="117.9"/><rect x="617.9" y="95.2"/><rect x="669.1" y="81.3"/><rect x="418.2" y="221.4"/><rect x="423.7" y="217.8"/><rect x="579.0" y="115.9"/><rect x="505.3" y="154.9"/><rect x="439.1" y="208.6"/><rect x="445.4" y="204.7"/><rect x="418.0" y="221.2"/><rect x="447.6" y="204.6"/><rect x="423.8" y="216.7"/><rect x="444.3" y="200.8"/><rect x="528.9" y="153.8"/><rect x="463.6" y="194.4"/><rect x="418.3" y="221.6"/><rect x="623.4" y="94.2"/><rect x="594.5" y="124.0"/><rect x="446.7" y="203.9"/><rect x="447.7" y="202.8"/><rect x="428.1" y="213.8"/><rect x="435.1" y="211.3"/><rect x="457.4" y="196.1"/><rect x="464.7" y="192.4"/><rect x="448.8" y="202.9"/><rect x="472.6" y="190.1"/><rect x="425.8" y="215.9"/><rect x="545.9" y="144.1"/><rect x="425.1" y="215.8"/><rect x="424.3" y="217.3"/><rect x="619.2" y="86.4"/><rect x="458.5" y="196.9"/><rect x="465.8" y="192.7"/><rect x="555.4" y="125.8"/><rect x="520.1" y="162.0"/><rect x="431.2" y="212.0"/><rect x="426.0" y="216.7"/><rect x="564.1" y="138.5"/><rect x="479.0" y="182.5"/><rect x="522.9" y="159.7"/><rect x="613.1" y="90.4"/><rect x="437.4" y="208.3"/><rect x="615.7" y="126.7"/><rect x="422.2" y="218.8"/><rect x="425.6" y="216.7"/><rect x="419.0" y="220.7"/><rect x="421.1" y="219.9"/><rect x="437.6" y="209.2"/><rect x="426.4" y="216.7"/><rect x="550.2" y="139.4"/><rect x="455.3" y="197.9"/><rect x="528.5" y="152.4"/><rect x="551.7" y="139.7"/><rect x="429.5" y="213.4"/><rect x="433.6" y="212.0"/><rect x="472.2" y="187.5"/><rect x="488.8" y="168.1"/><rect x="468.6" y="190.4"/><rect x="449.1" y="197.7"/><rect x="417.5" y="221.8"/><rect x="423.4" y="218.6"/><rect x="459.1" y="197.1"/><rect x="438.5" y="208.3"/><rect x="468.7" y="191.5"/><rect x="516.1" y="149.1"/><rect x="561.5" y="124.2"/><rect x="418.7" y="221.3"/><rect x="544.2" y="146.6"/><rect x="623.9" y="98.8"/><rect x="418.3" y="221.6"/><rect x="451.1" y="198.3"/><rect x="425.4" y="217.1"/><rect x="419.4" y="220.5"/><rect x="435.1" y="211.4"/><rect x="494.9" y="173.9"/><rect x="521.3" y="142.3"/><rect x="513.9" y="160.4"/><rect x="441.9" y="205.1"/><rect x="459.5" y="192.1"/><rect x="551.4" y="137.8"/><rect x="477.6" y="187.6"/><rect x="561.4" y="136.3"/><rect x="419.7" y="219.8"/><rect x="438.3" y="208.6"/><rect x="545.2" y="140.1"/><rect x="446.1" y="204.0"/><rect x="420.0" y="219.7"/><rect x="589.2" y="123.5"/><rect x="428.6" y="213.4"/><rect x="614.1" y="117.3"/><rect x="548.7" y="141.7"/><rect x="455.5" y="197.4"/><rect x="458.6" y="196.8"/><rect x="606.7" y="94.6"/><rect x="420.5" y="218.8"/><rect x="417.4" y="222.0"/><rect x="476.2" y="184.7"/><rect x="425.8" y="216.9"/><rect x="569.8" y="126.1"/><rect x="424.1" y="217.9"/><rect x="639.3" y="107.4"/><rect x="434.7" y="209.3"/><rect x="514.1" y="164.2"/><rect x="432.9" y="212.3"/><rect x="417.6" y="221.7"/><rect x="590.4" y="125.3"/><rect x="504.1" y="159.6"/><rect x="420.9" y="218.9"/><rect x="434.9" y="210.4"/><rect x="438.3" y="209.1"/><rect x="494.7" y="175.8"/><rect x="514.9" y="147.3"/><rect x="541.9" y="144.8"/><rect x="546.3" y="142.3"/><rect x="426.1" y="215.4"/><rect x="467.2" y="183.3"/><rect x="546.8" y="143.1"/><rect x="516.8" y="158.2"/><rect x="434.8" y="209.7"/><rect x="478.3" y="179.6"/><rect x="450.4" y="200.4"/><rect x="655.2" y="60.7"/><rect x="554.2" y="136.2"/><rect x="617.2" y="84.4"/><rect x="417.1" y="222.1"/><rect x="487.2" y="171.3"/><rect x="491.1" y="174.4"/><rect x="436.1" y="211.0"/><rect x="611.3" y="88.3"/><rect x="444.1" y="204.1"/><rect x="436.9" y="209.6"/><rect x="425.2" y="216.0"/><rect x="419.3" y="220.5"/><rect x="422.8" y="217.9"/><rect x="424.9" y="216.8"/><rect x="522.2" y="160.7"/><rect x="440.7" y="207.0"/><rect x="432.4" y="213.4"/><rect x="438.5" y="209.1"/><rect x="470.4" y="187.5"/><rect x="424.2" y="216.4"/><rect x="435.2" y="210.8"/><rect x="641.0" y="60.7"/><rect x="428.3" y="214.5"/><rect x="602.3" y="128.6"/><rect x="467.1" y="192.2"/><rect x="428.6" y="212.9"/><rect x="508.5" y="168.6"/><rect x="559.3" y="141.0"/><rect x="418.1" y="221.4"/><rect x="419.1" y="221.0"/><rect x="567.7" y="133.6"/><rect x="648.9" y="113.1"/><rect x="428.0" y="214.8"/><rect x="478.0" y="177.7"/><rect x="563.6" y="112.9"/><rect x="446.9" y="205.1"/><rect x="574.3" y="133.6"/><rect x="432.2" y="212.1"/><rect x="426.7" y="215.1"/><rect x="518.7" y="152.2"/><rect x="442.0" y="205.7"/><rect x="435.2" y="211.8"/><rect x="622.2" y="127.7"/><rect x="417.0" y="222.3"/><rect x="437.4" y="207.9"/><rect x="432.7" y="211.1"/><rect x="435.5" y="208.8"/><rect x="476.6" y="186.1"/><rect x="595.5" y="104.3"/><rect x="419.3" y="221.1"/><rect x="560.6" y="134.0"/><rect x="590.9" y="124.8"/><rect x="417.6" y="221.7"/><rect x="419.5" y="220.2"/><rect x="576.6" y="121.8"/><rect x="559.3" y="133.3"/><rect x="485.7" y="169.4"/><rect x="539.1" y="132.6"/><rect x="510.8" y="167.3"/><rect x="492.4" y="176.9"/><rect x="458.5" y="195.2"/><rect x="452.6" y="198.8"/><rect x="437.8" y="206.1"/><rect x="433.4" y="210.4"/><rect x="434.2" y="211.1"/><rect x="488.3" y="177.0"/><rect x="424.5" y="217.9"/><rect x="460.4" y="189.1"/><rect x="424.5" y="216.0"/><rect x="490.5" y="176.8"/><rect x="460.5" y="197.5"/><rect x="563.0" y="137.0"/><rect x="557.8" y="139.8"/><rect x="622.1" y="77.3"/><rect x="436.9" y="206.7"/><rect x="668.7" y="106.2"/><rect x="564.3" y="128.4"/><rect x="434.6" y="208.9"/><rect x="450.5" y="202.1"/><rect x="577.5" y="129.1"/><rect x="421.1" y="220.2"/><rect x="452.7" y="194.2"/><rect x="424.7" y="217.3"/><rect x="440.5" y="204.6"/><rect x="512.7" y="158.6"/><rect x="655.4" y="102.7"/><rect x="464.1" y="192.2"/><rect x="424.1" y="217.8"/><rect x="566.8" y="121.8"/><rect x="418.8" y="220.8"/><rect x="458.4" y="195.7"/><rect x="444.1" y="205.6"/><rect x="502.3" y="165.0"/><rect x="426.3" y="216.2"/><rect x="419.5" y="220.1"/><rect x="429.7" y="214.6"/><rect x="451.2" y="201.4"/><rect x="439.9" y="205.6"/><rect x="435.9" y="211.2"/><rect x="472.7" y="187.9"/><rect x="439.3" y="207.7"/><rect x="417.8" y="221.7"/><rect x="605.6" y="110.7"/><rect x="541.9" y="143.1"/><rect x="556.1" y="133.9"/><rect x="421.4" y="219.2"/><rect x="497.4" y="171.1"/><rect x="601.0" y="113.3"/><rect x="530.2" y="158.1"/><rect x="417.6" y="221.7"/><rect x="451.3" y="201.7"/><rect x="417.4" y="222.0"/><rect x="418.0" y="221.6"/><rect x="634.9" y="91.7"/><rect x="559.8" y="116.1"/><rect x="542.5" y="145.6"/><rect x="445.5" y="200.4"/><rect x="552.3" y="123.1"/><rect x="489.1" y="175.6"/><rect x="585.5" y="113.4"/><rect x="427.3" y="215.1"/><rect x="498.3" y="164.1"/><rect x="418.1" y="221.4"/><rect x="484.2" y="171.8"/><rect x="422.1" y="217.5"/><rect x="552.8" y="143.5"/><rect x="441.2" y="207.1"/><rect x="483.5" y="181.4"/><rect x="418.6" y="221.5"/><rect x="545.5" y="141.8"/><rect x="421.8" y="219.0"/><rect x="498.5" y="173.7"/><rect x="449.0" y="203.1"/><rect x="563.0" y="138.7"/><rect x="448.5" y="199.7"/><rect x="418.8" y="221.0"/><rect x="467.1" y="191.3"/><rect x="565.4" y="131.3"/><rect x="428.4" y="214.7"/><rect x="669.1" y="62.0"/><rect x="418.1" y="221.7"/><rect x="418.6" y="221.4"/><rect x="620.9" y="115.8"/><rect x="435.8" y="210.6"/><rect x="431.6" y="212.6"/><rect x="458.4" y="196.5"/><rect x="472.8" y="188.3"/><rect x="420.8" y="219.7"/><rect x="560.9" y="122.8"/><rect x="430.5" y="212.5"/><rect x="420.6" y="219.3"/><rect x="417.4" y="221.1"/><rect x="516.2" y="160.1"/><rect x="440.1" y="207.9"/><rect x="425.4" y="217.1"/><rect x="461.0" y="194.3"/><rect x="437.1" y="207.2"/><rect x="456.9" y="197.9"/><rect x="452.9" y="198.4"/><rect x="436.8" y="210.4"/><rect x="663.3" y="99.5"/><rect x="438.5" y="209.5"/><rect x="543.2" y="136.4"/><rect x="581.0" y="123.7"/><rect x="443.7" y="207.4"/><rect x="420.9" y="218.8"/><rect x="451.7" y="199.9"/><rect x="472.4" y="185.1"/><rect x="487.2" y="180.2"/><rect x="480.7" y="183.0"/><rect x="425.4" y="216.6"/><rect x="416.9" y="222.5"/><rect x="418.9" y="220.5"/><rect x="566.9" y="131.5"/><rect x="419.1" y="221.3"/><rect x="416.9" y="221.7"/><rect x="553.4" y="133.2"/><rect x="440.6" y="205.1"/><rect x="572.6" y="131.3"/><rect x="465.2" y="192.8"/><rect x="558.9" y="121.8"/><rect x="621.4" y="129.2"/><rect x="454.2" y="199.4"/><rect x="485.7" y="174.8"/><rect x="481.5" y="181.9"/><rect x="438.1" y="206.5"/><rect x="643.6" y="62.0"/><rect x="425.5" y="217.0"/><rect x="492.3" y="175.1"/><rect x="441.2" y="206.1"/><rect x="556.7" y="136.8"/><rect x="564.6" y="138.3"/><rect x="427.2" y="214.9"/><rect x="654.1" y="116.8"/><rect x="429.2" y="214.2"/><rect x="431.2" y="213.2"/><rect x="463.5" y="193.4"/><rect x="438.5" y="208.2"/><rect x="653.6" y="59.0"/><rect x="457.6" y="192.3"/><rect x="453.9" y="197.5"/><rect x="419.4" y="220.5"/><rect x="510.6" y="167.0"/><rect x="497.9" y="171.0"/><rect x="626.9" y="130.3"/><rect x="436.7" y="209.3"/><rect x="439.3" y="207.1"/><rect x="426.0" y="216.4"/><rect x="429.4" y="213.6"/><rect x="421.8" y="219.4"/><rect x="447.6" y="203.8"/><rect x="445.0" y="203.6"/><rect x="504.8" y="172.6"/><rect x="422.8" y="218.2"/><rect x="436.6" y="209.0"/><rect x="457.3" y="196.2"/><rect x="508.7" y="158.2"/><rect x="474.9" y="185.2"/><rect x="440.1" y="207.0"/><rect x="426.9" y="214.2"/><rect x="417.9" y="221.8"/><rect x="471.8" y="182.4"/><rect x="457.1" y="191.0"/><rect x="474.2" y="183.2"/><rect x="514.7" y="155.2"/><rect x="468.8" y="182.1"/><rect x="540.5" y="152.6"/><rect x="591.1" y="127.8"/><rect x="460.3" y="194.3"/><rect x="438.4" y="207.5"/><rect x="474.5" y="185.3"/><rect x="427.9" y="215.6"/><rect x="438.6" y="208.9"/><rect x="460.6" y="195.6"/><rect x="434.2" y="211.7"/><rect x="628.6" y="101.1"/><rect x="434.5" y="211.8"/><rect x="473.5" y="186.3"/><rect x="511.3" y="163.6"/><rect x="418.7" y="221.2"/><rect x="436.1" y="210.8"/><rect x="543.8" y="148.5"/><rect x="669.1" y="98.3"/><rect x="437.5" y="210.5"/><rect x="436.5" y="210.3"/><rect x="418.3" y="220.4"/><rect x="443.2" y="205.9"/><rect x="669.1" y="67.3"/><rect x="424.5" y="217.7"/><rect x="479.0" y="183.1"/><rect x="525.0" y="157.9"/><rect x="659.3" y="76.0"/><rect x="418.5" y="220.8"/><rect x="420.0" y="219.4"/><rect x="436.8" y="209.2"/><rect x="499.9" y="160.0"/><rect x="430.0" y="214.4"/><rect x="426.4" y="216.9"/><rect x="522.6" y="161.7"/><rect x="669.1" y="84.1"/><rect x="583.3" y="128.1"/><rect x="492.5" y="168.0"/><rect x="465.0" y="191.3"/><rect x="441.4" y="207.4"/><rect x="586.9" y="104.4"/><rect x="444.2" y="205.7"/><rect x="504.5" y="171.0"/><rect x="428.0" y="216.2"/><rect x="505.9" y="167.5"/><rect x="417.7" y="222.0"/><rect x="417.4" y="222.0"/><rect x="485.7" y="176.5"/><rect x="417.2" y="222.3"/><rect x="491.3" y="173.3"/><rect x="627.8" y="120.0"/><rect x="433.7" y="211.9"/><rect x="422.4" y="218.7"/><rect x="575.2" y="105.1"/><rect x="441.0" y="206.5"/><rect x="434.1" y="209.8"/><rect x="532.2" y="150.2"/><rect x="479.8" y="185.2"/><rect x="417.6" y="221.9"/><rect x="564.0" y="140.3"/><rect x="417.6" y="221.5"/><rect x="420.7" y="219.8"/><rect x="421.8" y="219.7"/><rect x="420.5" y="219.8"/><rect x="421.8" y="219.4"/><rect x="507.5" y="170.7"/><rect x="494.2" y="173.0"/><rect x="434.3" y="210.7"/><rect x="423.1" y="218.3"/><rect x="548.5" y="145.9"/><rect x="517.1" y="161.6"/><rect x="428.3" y="214.0"/><rect x="497.5" y="163.1"/><rect x="422.1" y="219.2"/><rect x="420.7" y="219.5"/><rect x="590.9" y="128.6"/><rect x="417.5" y="221.8"/><rect x="440.2" y="206.4"/><rect x="538.4" y="148.9"/><rect x="669.1" y="46.8"/><rect x="428.0" y="213.5"/><rect x="521.8" y="163.3"/><rect x="421.2" y="219.6"/><rect x="428.0" y="215.6"/><rect x="440.0" y="207.3"/><rect x="597.4" y="88.5"/><rect x="658.6" y="51.5"/><rect x="524.7" y="153.6"/><rect x="558.7" y="140.7"/><rect x="441.3" y="207.8"/><rect x="634.3" y="78.7"/><rect x="421.1" y="219.5"/><rect x="420.8" y="218.7"/><rect x="417.0" y="222.2"/><rect x="431.1" y="211.8"/><rect x="581.0" y="119.6"/><rect x="580.3" y="101.5"/><rect x="526.1" y="147.1"/><rect x="429.6" y="214.0"/><rect x="429.0" y="215.1"/><rect x="453.9" y="199.5"/><rect x="476.8" y="185.9"/><rect x="423.6" y="218.0"/><rect x="451.6" y="202.0"/><rect x="442.5" y="203.0"/><rect x="485.4" y="173.6"/><rect x="429.9" y="212.3"/><rect x="446.2" y="203.9"/><rect x="444.1" y="206.2"/><rect x="427.3" y="215.5"/><rect x="417.3" y="221.4"/><rect x="504.1" y="169.7"/><rect x="551.8" y="138.5"/><rect x="416.9" y="222.4"/><rect x="588.5" y="106.4"/><rect x="418.8" y="220.9"/><rect x="429.7" y="214.4"/><rect x="419.1" y="220.7"/><rect x="484.0" y="179.8"/><rect x="614.6" y="102.9"/><rect x="669.1" y="93.2"/><rect x="419.3" y="220.7"/><rect x="421.5" y="218.2"/><rect x="640.6" y="99.8"/><rect x="548.8" y="145.9"/><rect x="447.9" y="204.0"/><rect x="418.1" y="221.5"/><rect x="531.2" y="151.5"/><rect x="422.5" y="219.3"/><rect x="417.5" y="222.2"/><rect x="428.5" y="215.2"/><rect x="580.0" y="131.9"/><rect x="496.0" y="167.9"/><rect x="544.7" y="149.6"/><rect x="419.3" y="219.7"/><rect x="417.0" y="222.3"/><rect x="497.6" y="174.7"/><rect x="588.9" y="120.5"/><rect x="418.3" y="221.7"/><rect x="421.1" y="218.3"/><rect x="533.3" y="151.4"/><rect x="460.3" y="196.4"/><rect x="639.5" y="94.7"/><rect x="430.5" y="213.8"/><rect x="474.5" y="182.4"/><rect x="529.3" y="150.5"/><rect x="453.3" y="200.2"/><rect x="427.9" y="215.9"/><rect x="553.5" y="140.7"/><rect x="524.7" y="153.9"/><rect x="633.9" y="65.6"/><rect x="514.2" y="163.6"/><rect x="417.0" y="222.2"/><rect x="568.2" y="137.6"/><rect x="419.5" y="220.0"/><rect x="475.4" y="178.7"/><rect x="425.3" y="216.5"/><rect x="609.3" y="97.6"/><rect x="500.6" y="170.3"/><rect x="471.2" y="187.1"/><rect x="424.6" y="218.1"/><rect x="479.5" y="181.9"/><rect x="418.6" y="221.3"/><rect x="483.9" y="181.1"/><rect x="579.8" y="117.7"/><rect x="434.5" y="211.9"/><rect x="470.1" y="184.8"/><rect x="669.1" y="69.8"/><rect x="452.1" y="197.1"/><rect x="577.8" y="127.2"/><rect x="473.2" y="187.6"/><rect x="516.9" y="160.5"/><rect x="669.1" y="106.6"/><rect x="431.1" y="211.5"/><rect x="450.4" y="201.9"/><rect x="418.0" y="221.3"/><rect x="428.9" y="214.9"/><rect x="525.6" y="159.5"/><rect x="425.7" y="216.7"/><rect x="537.2" y="147.5"/><rect x="470.9" y="180.3"/><rect x="444.5" y="206.0"/><rect x="447.3" y="200.0"/><rect x="489.7" y="178.2"/><rect x="640.1" y="113.5"/><rect x="446.6" y="203.0"/><rect x="454.3" y="200.9"/><rect x="534.2" y="150.6"/><rect x="439.5" y="208.4"/><rect x="420.2" y="219.3"/><rect x="466.3" y="188.0"/><rect x="418.9" y="220.9"/><rect x="429.5" y="214.8"/><rect x="508.4" y="153.2"/><rect x="459.9" y="194.7"/><rect x="530.7" y="144.9"/><rect x="601.2" y="116.4"/><rect x="472.1" y="183.4"/><rect x="426.8" y="216.3"/><rect x="422.3" y="218.2"/><rect x="417.2" y="222.0"/><rect x="421.4" y="219.1"/><rect x="509.6" y="162.9"/><rect x="443.7" y="201.9"/><rect x="417.2" y="222.0"/><rect x="641.6" y="87.0"/><rect x="667.5" y="84.0"/><rect x="579.7" y="130.4"/><rect x="418.5" y="221.1"/><rect x="430.2" y="214.0"/><rect x="457.2" y="196.5"/><rect x="554.5" y="124.7"/><rect x="520.6" y="147.9"/><rect x="627.8" y="96.3"/><rect x="433.1" y="210.0"/><rect x="423.6" y="218.1"/><rect x="418.1" y="220.8"/><rect x="500.8" y="173.8"/><rect x="540.2" y="150.2"/><rect x="422.5" y="218.7"/><rect x="539.5" y="150.6"/><rect x="423.6" y="216.3"/><rect x="439.1" y="204.3"/><rect x="627.9" y="114.3"/><rect x="470.6" y="188.8"/><rect x="554.0" y="137.8"/><rect x="512.2" y="166.1"/><rect x="425.3" y="217.2"/><rect x="476.9" y="185.0"/><rect x="417.2" y="222.3"/><rect x="453.6" y="198.8"/><rect x="527.4" y="159.8"/><rect x="497.9" y="174.1"/><rect x="420.1" y="220.0"/><rect x="437.5" y="205.9"/><rect x="529.3" y="142.4"/><rect x="438.4" y="209.4"/><rect x="431.6" y="210.6"/><rect x="428.5" y="215.8"/><rect x="471.1" y="181.6"/><rect x="450.6" y="200.7"/><rect x="468.8" y="192.3"/><rect x="577.2" y="114.1"/><rect x="500.1" y="168.5"/><rect x="555.3" y="136.3"/><rect x="428.2" y="213.6"/><rect x="443.8" y="202.4"/><rect x="518.9" y="161.5"/><rect x="560.5" y="134.4"/><rect x="500.3" y="171.0"/><rect x="517.5" y="159.6"/><rect x="440.8" y="207.1"/><rect x="444.4" y="205.7"/><rect x="423.7" y="217.7"/><rect x="458.4" y="194.0"/><rect x="511.3" y="165.6"/><rect x="430.4" y="211.6"/><rect x="442.3" y="206.5"/><rect x="417.0" y="221.9"/><rect x="461.7" y="195.8"/><rect x="537.5" y="148.6"/><rect x="462.8" y="190.4"/><rect x="422.4" y="218.7"/><rect x="645.5" y="80.2"/><rect x="418.0" y="221.5"/><rect x="436.8" y="209.9"/><rect x="558.0" y="136.7"/><rect x="421.4" y="218.1"/><rect x="636.5" y="67.5"/><rect x="423.3" y="218.1"/><rect x="422.8" y="218.6"/><rect x="438.4" y="207.9"/><rect x="445.8" y="205.5"/><rect x="436.0" y="210.3"/><rect x="419.1" y="220.0"/><rect x="428.5" y="215.4"/><rect x="420.2" y="220.5"/><rect x="518.7" y="160.3"/><rect x="591.6" y="92.9"/><rect x="569.5" y="136.7"/><rect x="420.5" y="220.4"/><rect x="615.2" y="122.1"/><rect x="421.3" y="218.6"/><rect x="419.2" y="220.6"/><rect x="419.9" y="220.8"/><rect x="445.2" y="204.1"/><rect x="593.1" y="110.7"/><rect x="427.3" y="216.0"/><rect x="426.3" y="215.9"/><rect x="451.5" y="201.4"/><rect x="435.1" y="210.5"/><rect x="432.0" y="212.0"/><rect x="420.7" y="220.2"/><rect x="462.1" y="188.8"/><rect x="507.0" y="157.4"/><rect x="468.5" y="187.9"/><rect x="461.7" y="194.1"/><rect x="418.0" y="220.6"/><rect x="491.7" y="172.5"/><rect x="421.4" y="219.5"/><rect x="435.8" y="209.4"/><rect x="430.0" y="214.0"/><rect x="420.0" y="220.3"/><rect x="423.7" y="218.3"/><rect x="659.1" y="70.4"/><rect x="472.9" y="186.4"/><rect x="669.1" y="54.0"/><rect x="473.8" y="182.0"/><rect x="466.9" y="191.8"/><rect x="548.2" y="134.0"/><rect x="585.1" y="125.6"/><rect x="468.5" y="191.0"/><rect x="531.5" y="146.0"/><rect x="463.3" y="193.7"/><rect x="540.1" y="141.6"/><rect x="669.1" y="85.2"/><rect x="427.4" y="216.3"/><rect x="585.3" y="97.7"/><rect x="547.6" y="143.8"/><rect x="545.0" y="150.4"/><rect x="483.5" y="181.7"/><rect x="431.5" y="213.2"/><rect x="430.2" y="214.1"/><rect x="495.8" y="175.7"/><rect x="417.4" y="221.9"/><rect x="445.5" y="205.0"/><rect x="427.5" y="213.8"/><rect x="422.3" y="218.9"/><rect x="419.3" y="220.8"/><rect x="585.0" y="116.9"/><rect x="438.4" y="208.8"/><rect x="651.9" y="92.3"/><rect x="617.9" y="102.3"/><rect x="525.0" y="153.3"/><rect x="466.9" y="189.9"/><rect x="464.0" y="186.8"/><rect x="576.7" y="105.3"/><rect x="464.9" y="189.0"/><rect x="447.3" y="200.4"/><rect x="495.3" y="166.6"/><rect x="449.7" y="201.8"/><rect x="536.6" y="149.4"/><rect x="485.0" y="179.3"/><rect x="590.4" y="99.1"/><rect x="417.1" y="222.3"/><rect x="472.3" y="186.7"/><rect x="583.1" y="102.1"/><rect x="426.9" y="216.5"/><rect x="432.0" y="212.4"/><rect x="441.0" y="205.4"/><rect x="438.5" y="208.8"/><rect x="449.6" y="201.6"/><rect x="521.9" y="161.8"/><rect x="417.7" y="221.1"/><rect x="442.6" y="206.8"/><rect x="545.9" y="142.2"/><rect x="479.2" y="184.0"/><rect x="517.4" y="162.5"/><rect x="557.5" y="138.7"/><rect x="436.6" y="208.6"/><rect x="534.3" y="150.6"/><rect x="446.4" y="204.7"/><rect x="572.9" y="117.9"/><rect x="669.1" y="93.6"/><rect x="567.8" y="132.3"/><rect x="547.8" y="126.2"/><rect x="446.4" y="202.3"/><rect x="441.9" y="204.8"/><rect x="437.2" y="208.8"/><rect x="527.3" y="156.1"/><rect x="491.5" y="166.5"/><rect x="429.7" y="214.0"/><rect x="648.8" y="100.3"/><rect x="436.6" y="209.6"/><rect x="510.0" y="161.5"/><rect x="424.4" y="217.1"/><rect x="550.6" y="137.2"/><rect x="483.3" y="176.4"/><rect x="441.8" y="204.3"/><rect x="424.9" y="217.6"/><rect x="547.9" y="145.1"/><rect x="483.8" y="180.0"/><rect x="417.2" y="222.1"/><rect x="433.1" y="209.6"/><rect x="438.1" y="207.2"/><rect x="439.3" y="208.0"/><rect x="417.4" y="221.8"/><rect x="420.9" y="219.1"/><rect x="503.1" y="165.9"/><rect x="430.3" y="213.8"/><rect x="513.9" y="163.8"/><rect x="590.3" y="128.3"/><rect x="482.4" y="183.3"/><rect x="538.7" y="147.7"/><rect x="418.5" y="221.3"/><rect x="458.8" y="189.9"/><rect x="518.4" y="162.4"/><rect x="422.5" y="219.2"/><rect x="478.9" y="184.8"/><rect x="477.1" y="175.8"/><rect x="419.9" y="220.4"/><rect x="439.1" y="206.3"/><rect x="461.6" y="195.2"/><rect x="631.3" y="87.3"/><rect x="568.9" y="127.7"/><rect x="481.2" y="180.4"/><rect x="518.5" y="163.1"/><rect x="424.0" y="217.3"/><rect x="423.2" y="218.2"/><rect x="602.2" y="100.9"/><rect x="608.7" y="121.9"/><rect x="445.4" y="204.2"/><rect x="461.0" y="190.1"/><rect x="558.8" y="129.6"/><rect x="444.5" y="204.2"/><rect x="446.9" y="204.2"/><rect x="425.5" y="217.4"/><rect x="494.7" y="172.0"/><rect x="530.5" y="155.3"/><rect x="599.7" y="98.0"/><rect x="418.8" y="220.2"/><rect x="430.9" y="213.1"/><rect x="418.4" y="221.3"/><rect x="539.0" y="155.1"/><rect x="416.8" y="222.3"/><rect x="425.7" y="216.9"/><rect x="616.3" y="94.3"/><rect x="573.6" y="134.0"/><rect x="451.4" y="200.2"/><rect x="616.9" y="97.5"/><rect x="498.1" y="175.4"/><rect x="419.0" y="220.6"/><rect x="454.8" y="198.2"/><rect x="499.8" y="171.4"/><rect x="469.0" y="188.6"/><rect x="488.7" y="175.7"/><rect x="429.5" y="214.4"/><rect x="520.2" y="155.1"/><rect x="653.2" y="85.0"/><rect x="426.9" y="216.3"/><rect x="597.4" y="106.1"/><rect x="544.6" y="152.3"/><rect x="418.7" y="221.0"/><rect x="575.7" y="127.5"/><rect x="536.9" y="145.3"/><rect x="422.4" y="219.1"/><rect x="472.6" y="184.5"/><rect x="429.7" y="214.1"/><rect x="553.1" y="142.7"/><rect x="507.5" y="169.3"/><rect x="486.5" y="179.9"/><rect x="422.8" y="218.6"/><rect x="425.9" y="216.9"/><rect x="620.9" y="99.9"/><rect x="474.8" y="188.0"/><rect x="493.7" y="172.6"/><rect x="550.8" y="123.3"/><rect x="450.0" y="202.5"/><rect x="452.7" y="199.6"/><rect x="575.3" y="121.9"/><rect x="474.4" y="184.0"/><rect x="663.8" y="78.2"/><rect x="534.4" y="153.0"/><rect x="447.8" y="203.4"/><rect x="453.2" y="201.2"/><rect x="467.2" y="191.6"/><rect x="538.2" y="151.7"/><rect x="510.7" y="167.6"/><rect x="440.6" y="207.1"/><rect x="426.4" y="216.5"/><rect x="464.2" y="193.7"/><rect x="422.2" y="217.9"/><rect x="429.9" y="212.6"/><rect x="417.1" y="221.6"/><rect x="419.6" y="220.3"/><rect x="442.4" y="205.9"/><rect x="561.3" y="133.3"/><rect x="592.3" y="111.7"/><rect x="424.6" y="217.2"/><rect x="434.2" y="211.2"/><rect x="428.7" y="214.8"/><rect x="556.6" y="138.6"/><rect x="424.9" y="217.1"/><rect x="668.2" y="69.4"/><rect x="482.2" y="182.8"/><rect x="419.8" y="219.3"/><rect x="558.7" y="142.6"/><rect x="424.9" y="217.9"/><rect x="441.4" y="206.4"/><rect x="424.8" y="217.2"/><rect x="450.3" y="201.2"/><rect x="481.5" y="183.5"/><rect x="420.2" y="219.9"/><rect x="418.3" y="221.3"/><rect x="418.5" y="220.3"/><rect x="446.5" y="203.2"/><rect x="424.7" y="216.2"/><rect x="434.2" y="211.5"/><rect x="443.2" y="205.1"/><rect x="656.6" y="50.0"/><rect x="449.2" y="203.6"/><rect x="432.6" y="212.4"/><rect x="419.8" y="220.3"/><rect x="565.5" y="132.7"/><rect x="669.1" y="76.1"/><rect x="449.1" y="201.9"/><rect x="476.9" y="184.6"/><rect x="484.2" y="179.4"/><rect x="480.9" y="182.5"/><rect x="469.1" y="190.5"/><rect x="598.5" y="96.8"/><rect x="419.3" y="220.8"/><rect x="429.6" y="211.9"/><rect x="529.3" y="143.8"/><rect x="439.5" y="208.9"/><rect x="506.6" y="167.8"/><rect x="583.9" y="130.1"/><rect x="611.4" y="113.0"/><rect x="427.8" y="215.1"/><rect x="537.0" y="145.4"/><rect x="417.9" y="222.0"/><rect x="645.3" y="108.1"/><rect x="558.8" y="140.6"/><rect x="573.9" y="132.7"/><rect x="446.3" y="202.4"/><rect x="425.3" y="216.7"/><rect x="418.8" y="220.1"/><rect x="443.3" y="206.6"/><rect x="583.8" y="126.8"/><rect x="418.5" y="221.2"/><rect x="422.3" y="218.8"/><rect x="431.9" y="211.1"/><rect x="443.2" y="206.2"/><rect x="422.0" y="218.3"/><rect x="527.6" y="154.7"/><rect x="432.1" y="211.8"/><rect x="529.3" y="153.5"/><rect x="444.7" y="201.4"/><rect x="435.9" y="210.7"/><rect x="419.3" y="220.9"/><rect x="489.0" y="173.9"/><rect x="450.3" y="196.2"/><rect x="417.6" y="221.4"/><rect x="421.3" y="219.5"/><rect x="417.0" y="221.4"/><rect x="428.9" y="214.5"/><rect x="425.1" y="215.6"/><rect x="417.9" y="220.9"/><rect x="426.8" y="216.7"/><rect x="507.0" y="164.6"/><rect x="458.4" y="190.7"/><rect x="421.1" y="220.0"/><rect x="478.7" y="184.6"/><rect x="538.8" y="140.2"/><rect x="426.3" y="214.5"/><rect x="433.7" y="212.7"/><rect x="431.1" y="214.5"/><rect x="445.8" y="200.7"/><rect x="503.9" y="170.4"/><rect x="467.5" y="185.0"/><rect x="483.6" y="178.4"/><rect x="444.3" y="205.6"/><rect x="504.2" y="166.6"/><rect x="432.8" y="212.4"/><rect x="422.7" y="218.8"/><rect x="436.7" y="210.6"/><rect x="422.4" y="218.6"/><rect x="662.6" y="56.2"/><rect x="586.7" y="120.5"/><rect x="669.1" y="97.3"/><rect x="528.2" y="152.4"/><rect x="449.7" y="201.0"/><rect x="450.7" y="202.6"/><rect x="495.3" y="165.1"/><rect x="637.7" y="89.8"/><rect x="643.5" y="75.6"/><rect x="429.0" y="214.4"/><rect x="603.6" y="111.7"/><rect x="443.2" y="204.3"/><rect x="569.4" y="129.9"/><rect x="562.1" y="117.0"/><rect x="666.1" y="103.1"/><rect x="540.1" y="134.0"/><rect x="531.8" y="157.9"/><rect x="452.6" y="199.3"/><rect x="510.1" y="166.2"/><rect x="497.7" y="173.0"/><rect x="528.7" y="153.0"/><rect x="474.5" y="177.6"/><rect x="472.8" y="186.2"/><rect x="489.7" y="170.5"/><rect x="620.3" y="124.2"/><rect x="418.7" y="220.7"/><rect x="661.1" y="53.6"/><rect x="437.0" y="211.0"/><rect x="459.3" y="190.9"/><rect x="423.4" y="217.4"/><rect x="548.0" y="144.5"/><rect x="562.8" y="134.6"/><rect x="540.4" y="146.5"/><rect x="432.2" y="212.3"/><rect x="578.4" y="127.8"/><rect x="436.0" y="209.9"/><rect x="610.0" y="101.7"/><rect x="438.3" y="208.5"/><rect x="421.8" y="217.9"/><rect x="455.7" y="198.1"/><rect x="430.0" y="213.3"/><rect x="469.2" y="189.9"/><rect x="426.6" y="215.0"/><rect x="658.5" y="87.7"/><rect x="470.8" y="189.6"/><rect x="442.3" y="206.3"/><rect x="423.6" y="218.6"/><rect x="421.4" y="219.3"/><rect x="417.0" y="222.1"/><rect x="558.8" y="139.8"/><rect x="435.5" y="208.3"/><rect x="660.1" y="112.4"/><rect x="417.8" y="221.7"/><rect x="421.1" y="219.8"/><rect x="601.0" y="125.0"/><rect x="592.3" y="119.0"/><rect x="503.5" y="167.2"/><rect x="629.6" y="125.5"/><rect x="439.3" y="207.7"/><rect x="425.5" y="215.5"/><rect x="575.0" y="124.2"/><rect x="637.8" y="102.5"/><rect x="420.2" y="220.7"/><rect x="514.0" y="162.7"/><rect x="498.1" y="171.4"/><rect x="563.7" y="130.5"/><rect x="423.2" y="218.6"/><rect x="419.4" y="219.8"/><rect x="476.7" y="185.7"/><rect x="422.8" y="218.9"/><rect x="554.2" y="143.8"/><rect x="422.6" y="219.0"/><rect x="457.3" y="198.6"/><rect x="419.2" y="220.8"/><rect x="501.5" y="170.3"/><rect x="542.0" y="147.4"/><rect x="555.3" y="138.3"/><rect x="649.9" y="67.7"/><rect x="417.6" y="221.9"/><rect x="433.1" y="212.7"/><rect x="593.9" y="121.7"/><rect x="664.5" y="30.9"/><rect x="431.3" y="212.9"/><rect x="436.8" y="206.5"/><rect x="503.7" y="168.5"/><rect x="420.8" y="220.3"/><rect x="442.8" y="204.7"/><rect x="533.1" y="152.9"/><rect x="420.5" y="220.5"/><rect x="486.6" y="181.3"/><rect x="511.6" y="168.8"/><rect x="519.7" y="147.3"/><rect x="491.7" y="178.4"/><rect x="570.2" y="127.8"/><rect x="445.6" y="204.4"/><rect x="421.0" y="219.5"/><rect x="554.5" y="140.2"/><rect x="424.1" y="218.3"/><rect x="586.8" y="114.7"/><rect x="584.3" y="118.9"/><rect x="433.7" y="212.8"/><rect x="459.7" y="194.4"/><rect x="419.0" y="221.2"/><rect x="422.0" y="219.1"/><rect x="449.1" y="197.3"/><rect x="666.1" y="72.3"/><rect x="611.6" y="99.7"/><rect x="455.4" y="197.4"/><rect x="581.7" y="125.0"/><rect x="435.8" y="210.7"/><rect x="549.7" y="145.6"/><rect x="425.4" y="216.9"/><rect x="470.0" y="189.0"/><rect x="464.5" y="191.0"/><rect x="584.3" y="132.6"/><rect x="497.2" y="169.4"/><rect x="542.4" y="148.1"/><rect x="418.5" y="220.9"/><rect x="582.4" y="123.0"/><rect x="420.8" y="219.9"/><rect x="522.1" y="149.4"/><rect x="455.4" y="198.7"/><rect x="434.5" y="211.0"/><rect x="495.6" y="161.2"/><rect x="647.0" y="94.2"/><rect x="543.2" y="129.5"/><rect x="517.6" y="160.4"/><rect x="568.1" y="123.2"/><rect x="549.5" y="147.9"/><rect x="509.7" y="161.3"/><rect x="428.4" y="214.2"/><rect x="436.2" y="207.8"/><rect x="418.6" y="220.5"/><rect x="483.9" y="178.7"/><rect x="419.4" y="220.6"/><rect x="590.5" y="130.7"/><rect x="419.1" y="220.7"/><rect x="423.2" y="218.3"/><rect x="483.7" y="181.9"/><rect x="429.1" y="215.5"/><rect x="482.7" y="174.8"/><rect x="450.4" y="196.8"/><rect x="480.7" y="177.3"/><rect x="645.6" y="84.9"/><rect x="435.7" y="209.9"/><rect x="446.3" y="203.0"/><rect x="489.5" y="177.0"/><rect x="432.4" y="210.2"/><rect x="424.5" y="217.3"/><rect x="421.4" y="219.8"/><rect x="494.0" y="163.8"/><rect x="560.2" y="133.5"/><rect x="424.8" y="216.6"/><rect x="417.6" y="221.5"/><rect x="418.0" y="221.6"/><rect x="432.8" y="212.1"/><rect x="530.8" y="138.3"/><rect x="543.4" y="147.9"/><rect x="441.0" y="205.8"/><rect x="522.6" y="159.6"/><rect x="513.8" y="161.4"/><rect x="669.1" y="89.5"/><rect x="428.6" y="214.7"/><rect x="525.2" y="155.7"/><rect x="426.4" y="216.0"/><rect x="640.1" y="126.1"/><rect x="469.0" y="187.4"/><rect x="494.1" y="174.5"/><rect x="652.1" y="79.1"/><rect x="550.5" y="139.3"/><rect x="519.6" y="159.2"/><rect x="567.3" y="135.4"/><rect x="427.4" y="215.9"/><rect x="626.3" y="80.6"/><rect x="541.8" y="142.8"/><rect x="522.5" y="159.0"/><rect x="549.5" y="136.6"/><rect x="486.3" y="177.9"/><rect x="464.3" y="195.4"/><rect x="438.2" y="206.8"/><rect x="488.9" y="167.4"/><rect x="423.6" y="217.7"/><rect x="541.4" y="143.9"/><rect x="420.9" y="219.7"/><rect x="568.3" y="129.0"/><rect x="617.0" y="74.7"/><rect x="634.5" y="115.9"/><rect x="446.1" y="203.7"/><rect x="459.2" y="195.6"/><rect x="421.0" y="219.3"/><rect x="418.8" y="221.2"/><rect x="566.0" y="128.7"/><rect x="453.9" y="197.0"/><rect x="439.4" y="209.5"/><rect x="569.0" y="115.4"/><rect x="525.5" y="146.7"/><rect x="418.3" y="221.5"/><rect x="599.0" y="111.0"/><rect x="669.1" y="8.7"/><rect x="669.1" y="15.3"/><rect x="669.1" y="22.2"/><rect x="669.1" y="24.6"/><rect x="669.1" y="27.1"/><rect x="669.1" y="29.2"/><rect x="669.1" y="31.8"/><rect x="669.1" y="34.2"/><rect x="669.1" y="36.6"/><rect x="669.1" y="39.3"/><rect x="669.1" y="41.6"/><rect x="669.1" y="43.8"/><rect x="669.1" y="46.3"/><rect x="669.1" y="48.7"/><rect x="669.1" y="51.4"/><rect x="669.1" y="53.8"/><rect x="669.1" y="56.4"/><rect x="669.1" y="58.7"/><rect x="669.1" y="61.1"/><rect x="669.1" y="63.8"/><rect x="669.1" y="65.7"/><rect x="669.1" y="68.5"/><rect x="669.1" y="70.7"/><rect x="669.1" y="73.1"/><rect x="669.1" y="75.8"/><rect x="669.1" y="78.4"/><rect x="669.1" y="80.3"/><rect x="669.1" y="82.9"/><rect x="669.1" y="85.4"/><rect x="669.1" y="87.6"/><rect x="669.1" y="90.0"/><rect x="669.1" y="92.8"/><rect x="669.1" y="95.1"/><rect x="669.1" y="97.9"/><rect x="669.1" y="100.0"/><rect x="669.1" y="102.1"/><rect x="669.1" y="105.0"/><rect x="669.1" y="107.1"/><rect x="669.1" y="110.0"/><rect x="669.1" y="112.2"/><rect x="669.1" y="115.5"/><rect x="669.1" y="118.4"/><rect x="669.1" y="122.4"/><rect x="669.1" y="125.6"/><rect x="669.1" y="128.7"/>
</g>
<line x1="419.2" y1="224.5" x2="671.4" y2="63.4" stroke="#93bf6c" stroke-width="2.5" stroke-linecap="square"/>
<rect x="406.4" y="0.6" width="277.6" height="234.5" fill="none" stroke="#cccccc" stroke-width="1.25"/>
<line x1="413.4" y1="235.6" x2="413.4" y2="246.1" stroke="#333" stroke-width="1.1"/>
<line x1="477.9" y1="235.6" x2="477.9" y2="246.1" stroke="#333" stroke-width="1.1"/>
<line x1="542.4" y1="235.6" x2="542.4" y2="246.1" stroke="#333" stroke-width="1.1"/>
<line x1="606.9" y1="235.6" x2="606.9" y2="246.1" stroke="#333" stroke-width="1.1"/>
<line x1="671.4" y1="235.6" x2="671.4" y2="246.1" stroke="#333" stroke-width="1.1"/>
<line x1="394.9" y1="228.2" x2="405.9" y2="228.2" stroke="#333" stroke-width="1.1"/>
<line x1="394.9" y1="187.0" x2="405.9" y2="187.0" stroke="#333" stroke-width="1.1"/>
<line x1="394.9" y1="145.8" x2="405.9" y2="145.8" stroke="#333" stroke-width="1.1"/>
<line x1="394.9" y1="104.6" x2="405.9" y2="104.6" stroke="#333" stroke-width="1.1"/>
<line x1="394.9" y1="63.4" x2="405.9" y2="63.4" stroke="#333" stroke-width="1.1"/>
<line x1="394.9" y1="22.2" x2="405.9" y2="22.2" stroke="#333" stroke-width="1.1"/>
<rect x="424.9" y="13.2" width="4.6" height="4.6" fill="#0404c0" fill-opacity="0.64" stroke="#0404c0" stroke-opacity="0.64" stroke-width="0.7"/>
<line x1="414.8" y1="29.9" x2="438.8" y2="30.1" stroke="#93bf6c" stroke-width="2.1"/>
<g filter="url(#idf)">
<text x="413.4" y="264.0" text-anchor="middle" class="tk">0.0</text>
<text x="477.9" y="264.0" text-anchor="middle" class="tk">0.2</text>
<text x="542.4" y="264.0" text-anchor="middle" class="tk">0.4</text>
<text x="606.9" y="264.0" text-anchor="middle" class="tk">0.6</text>
<text x="671.4" y="264.0" text-anchor="middle" class="tk">0.8</text>
<text x="387.1" y="233.1" text-anchor="end" class="tk">0.0</text>
<text x="387.1" y="191.9" text-anchor="end" class="tk">0.2</text>
<text x="387.1" y="150.7" text-anchor="end" class="tk">0.4</text>
<text x="387.1" y="109.5" text-anchor="end" class="tk">0.6</text>
<text x="387.1" y="68.3" text-anchor="end" class="tk">0.8</text>
<text x="387.1" y="27.1" text-anchor="end" class="tk">1.0</text>
<text x="545.8" y="282.7" text-anchor="middle" class="al">Experimental C(mol/m3)</text>
<text transform="translate(362.2,117.8) rotate(-90)" text-anchor="middle" class="al">Predicted C(mol/m3)</text>
<text x="447.1" y="17.9" class="lg">Train Data</text>
<text x="447.1" y="33.9" class="lg">Perfect Prediction</text>
</g>
</svg>
</body></html>
